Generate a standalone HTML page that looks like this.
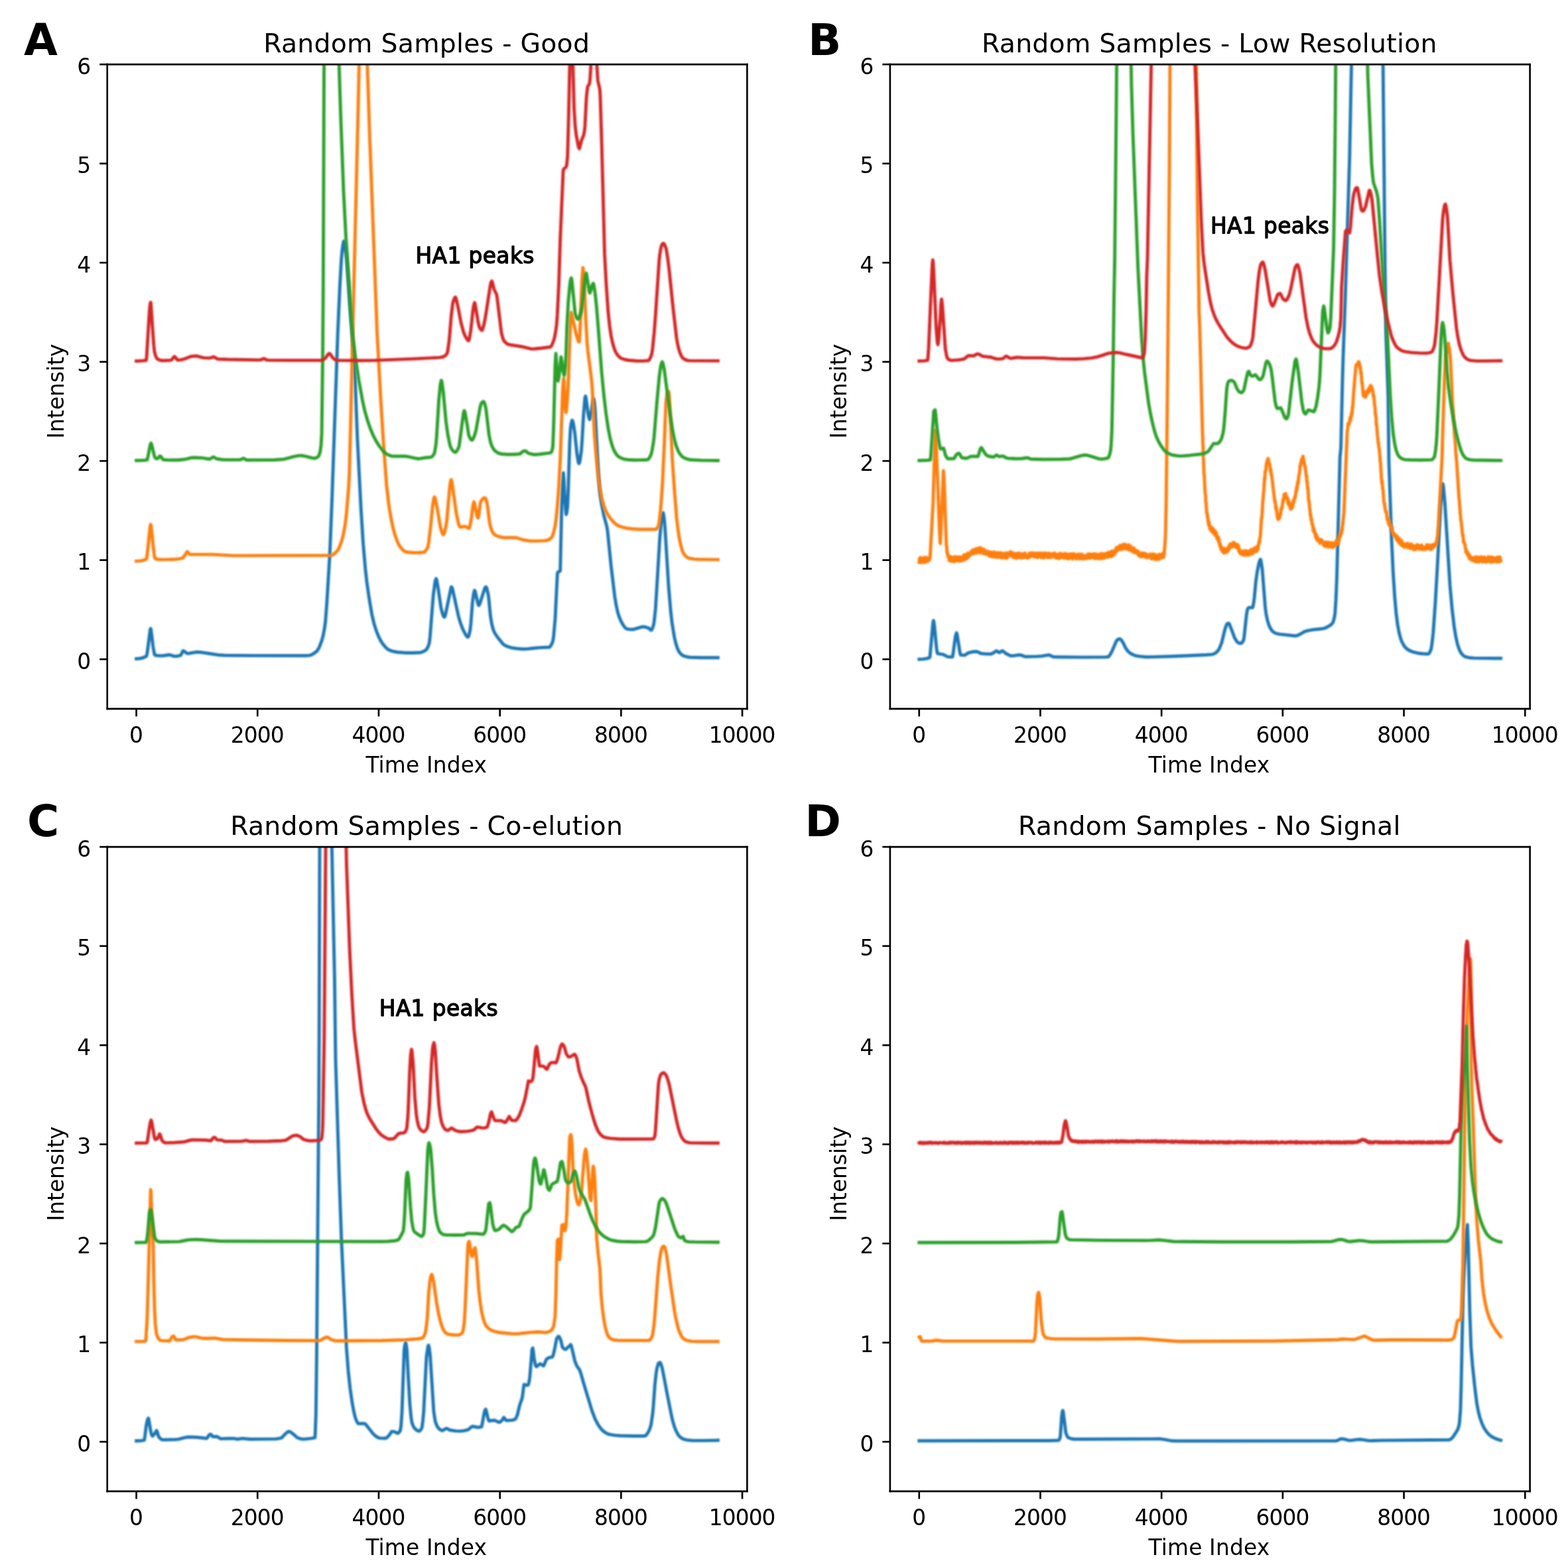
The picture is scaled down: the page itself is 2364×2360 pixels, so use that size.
<!DOCTYPE html>
<html lang="en"><head><meta charset="utf-8"><title>Random Samples</title>
<style>html,body{margin:0;padding:0;background:#fff}svg{display:block}text{font-family:"DejaVu Sans","Liberation Sans",sans-serif;fill:#000}text.ha1{stroke:#000;stroke-width:0.4px;stroke-linejoin:round}</style>
</head><body>
<svg width="2364" height="2360" viewBox="0 0 720 718.7817">
 <defs>
  <style type="text/css">*{stroke-linejoin: round; stroke-linecap: butt}</style>
 </defs>
 <defs><filter id="bl0" filterUnits="userSpaceOnUse" x="47.25" y="27.57" width="297.82" height="299.98"><feGaussianBlur stdDeviation="0.305"/></filter><filter id="bl1" filterUnits="userSpaceOnUse" x="406.70" y="27.57" width="297.82" height="299.98"><feGaussianBlur stdDeviation="0.305"/></filter><filter id="bl2" filterUnits="userSpaceOnUse" x="47.25" y="386.96" width="297.82" height="299.98"><feGaussianBlur stdDeviation="0.305"/></filter><filter id="bl3" filterUnits="userSpaceOnUse" x="406.70" y="386.96" width="297.82" height="299.98"><feGaussianBlur stdDeviation="0.305"/></filter></defs>
<g id="figure_1">
  <g id="patch_1">
   <path d="M 0 718.78 L 720 718.78 L 720 0 L 0 0 z" style="fill: #ffffff"/>
  </g>
  <g id="axes_1">
   <g id="patch_2">
    <path d="M 49.25 325.55 L 343.07 325.55 L 343.07 29.57 L 49.25 29.57 z" style="fill: #ffffff"/>
   </g>
   <g id="matplotlib.axis_1">
    <g id="xtick_1">
     <g id="line2d_1">
      <defs>
       <path id="m1504cfccaf" d="M 0 0 L 0 3.5" style="stroke: #000000; stroke-width: 0.8"/>
      </defs>
      <g>
       <use href="#m1504cfccaf" x="62.604061" y="325.553299" style="stroke: #000000; stroke-width: 0.8"/>
      </g>
     </g>
     <g id="text_1">
      <text class="xtick" x="62.604" y="341.157" font-size="10" text-anchor="middle">0</text>
     </g>
    </g>
    <g id="xtick_2">
     <g id="line2d_2">
      <g>
       <use href="#m1504cfccaf" x="118.251269" y="325.553299" style="stroke: #000000; stroke-width: 0.8"/>
      </g>
     </g>
     <g id="text_2">
      <text class="xtick" x="118.114" y="341.157" font-size="10" text-anchor="middle" letter-spacing="-0.274">2000</text>
     </g>
    </g>
    <g id="xtick_3">
     <g id="line2d_3">
      <g>
       <use href="#m1504cfccaf" x="173.898477" y="325.553299" style="stroke: #000000; stroke-width: 0.8"/>
      </g>
     </g>
     <g id="text_3">
      <text class="xtick" x="173.761" y="341.157" font-size="10" text-anchor="middle" letter-spacing="-0.274">4000</text>
     </g>
    </g>
    <g id="xtick_4">
     <g id="line2d_4">
      <g>
       <use href="#m1504cfccaf" x="229.545685" y="325.553299" style="stroke: #000000; stroke-width: 0.8"/>
      </g>
     </g>
     <g id="text_4">
      <text class="xtick" x="229.409" y="341.157" font-size="10" text-anchor="middle" letter-spacing="-0.274">6000</text>
     </g>
    </g>
    <g id="xtick_5">
     <g id="line2d_5">
      <g>
       <use href="#m1504cfccaf" x="285.192893" y="325.553299" style="stroke: #000000; stroke-width: 0.8"/>
      </g>
     </g>
     <g id="text_5">
      <text class="xtick" x="285.056" y="341.157" font-size="10" text-anchor="middle" letter-spacing="-0.274">8000</text>
     </g>
    </g>
    <g id="xtick_6">
     <g id="line2d_6">
      <g>
       <use href="#m1504cfccaf" x="340.840102" y="325.553299" style="stroke: #000000; stroke-width: 0.8"/>
      </g>
     </g>
     <g id="text_6">
      <text class="xtick" x="340.703" y="341.157" font-size="10" text-anchor="middle" letter-spacing="-0.274">10000</text>
     </g>
    </g>
    <g id="text_7">
     <text class="xlabel" x="195.754" y="354.926" font-size="10" text-anchor="middle" letter-spacing="0.046">Time Index</text>
    </g>
   </g>
   <g id="matplotlib.axis_2">
    <g id="ytick_1">
     <g id="line2d_7">
      <defs>
       <path id="m5d545ce8f8" d="M 0 0 L -3.5 0" style="stroke: #000000; stroke-width: 0.8"/>
      </defs>
      <g>
       <use href="#m5d545ce8f8" x="49.248731" y="302.785631" style="stroke: #000000; stroke-width: 0.8"/>
      </g>
     </g>
     <g id="text_8">
      <text class="ytick" x="41.792" y="307.194" font-size="10" text-anchor="end">0</text>
     </g>
    </g>
    <g id="ytick_2">
     <g id="line2d_8">
      <g>
       <use href="#m5d545ce8f8" x="49.248731" y="257.250293" style="stroke: #000000; stroke-width: 0.8"/>
      </g>
     </g>
     <g id="text_9">
      <text class="ytick" x="41.792" y="261.659" font-size="10" text-anchor="end">1</text>
     </g>
    </g>
    <g id="ytick_3">
     <g id="line2d_9">
      <g>
       <use href="#m5d545ce8f8" x="49.248731" y="211.714955" style="stroke: #000000; stroke-width: 0.8"/>
      </g>
     </g>
     <g id="text_10">
      <text class="ytick" x="41.792" y="216.123" font-size="10" text-anchor="end">2</text>
     </g>
    </g>
    <g id="ytick_4">
     <g id="line2d_10">
      <g>
       <use href="#m5d545ce8f8" x="49.248731" y="166.179617" style="stroke: #000000; stroke-width: 0.8"/>
      </g>
     </g>
     <g id="text_11">
      <text class="ytick" x="41.792" y="170.588" font-size="10" text-anchor="end">3</text>
     </g>
    </g>
    <g id="ytick_5">
     <g id="line2d_11">
      <g>
       <use href="#m5d545ce8f8" x="49.248731" y="120.64428" style="stroke: #000000; stroke-width: 0.8"/>
      </g>
     </g>
     <g id="text_12">
      <text class="ytick" x="41.792" y="125.053" font-size="10" text-anchor="end">4</text>
     </g>
    </g>
    <g id="ytick_6">
     <g id="line2d_12">
      <g>
       <use href="#m5d545ce8f8" x="49.248731" y="75.108942" style="stroke: #000000; stroke-width: 0.8"/>
      </g>
     </g>
     <g id="text_13">
      <text class="ytick" x="41.792" y="79.517" font-size="10" text-anchor="end">5</text>
     </g>
    </g>
    <g id="ytick_7">
     <g id="line2d_13">
      <g>
       <use href="#m5d545ce8f8" x="49.248731" y="29.573604" style="stroke: #000000; stroke-width: 0.8"/>
      </g>
     </g>
     <g id="text_14">
      <text class="ytick" x="41.792" y="33.982" font-size="10" text-anchor="end">6</text>
     </g>
    </g>
    <g id="text_15">
     <text class="ylabel" x="29.167" y="179.695" font-size="10" text-anchor="middle" transform="rotate(-90 29.167 179.695)">Intensity</text>
    </g>
   </g>
   <g id="line2d_14">
    <path d="M 62.6 302.56 L 64.27 302.44 L 65.61 302.14 L 66.94 301.56 L 67.28 301.31 L 67.61 299.84 L 68.61 292.05 L 68.95 289.35 L 69.17 288.67 L 69.28 288.88 L 69.62 291.34 L 70.28 296.98 L 70.95 300.59 L 71.29 300.98 L 73.29 301.17 L 74.96 301.14 L 77.63 300.75 L 78.63 300.98 L 79.97 301.38 L 80.97 301.4 L 82.3 301.16 L 82.97 300.93 L 83.3 300.39 L 83.97 298.99 L 84.11 298.92 L 84.31 298.95 L 84.97 299.38 L 85.64 299.94 L 86.17 300.14 L 86.98 300.06 L 90.32 299.47 L 92.65 299.64 L 95.99 300.15 L 100.67 300.86 L 103 300.98 L 116.03 301.11 L 140.06 301.15 L 142.07 301.03 L 143.07 300.7 L 144.07 300.14 L 145.41 299.14 L 146.07 298.26 L 146.74 296.95 L 147.8 294.13 L 148.41 291.84 L 149.08 288.14 L 149.41 285.71 L 150.08 277.02 L 151.42 254.9 L 152.42 230.05 L 155.09 153.16 L 156.09 130.65 L 156.76 118.86 L 157.09 115.48 L 157.43 112.74 L 157.76 111.01 L 157.93 110.76 L 158.09 111.02 L 158.43 112.7 L 159.1 118.14 L 159.76 127.12 L 160.77 141.74 L 162.44 162.38 L 163.1 175.09 L 164.1 201.29 L 165.77 233.99 L 166.78 249.88 L 167.78 261.48 L 168.45 267.37 L 169.45 274.42 L 170.78 282.31 L 171.78 286.53 L 172.79 289.75 L 173.79 292.22 L 174.79 294.24 L 175.79 295.76 L 177.13 297.35 L 178.13 298.24 L 179.13 298.74 L 180.8 299.25 L 182.55 299.55 L 186.47 299.85 L 189.81 299.85 L 193.15 299.67 L 194.15 299.36 L 195.16 298.82 L 195.82 298.29 L 196.49 297.16 L 197.08 295.5 L 197.16 295.13 L 197.49 292.29 L 198.49 279.26 L 198.97 273.32 L 199.83 266.89 L 200.25 265.77 L 200.5 266.27 L 201.19 270.18 L 201.83 274.54 L 202.5 279.15 L 203.17 281.74 L 203.5 282.72 L 203.84 283.33 L 204.03 283.43 L 204.17 283.34 L 204.5 282.5 L 205.17 279.29 L 207.18 269.64 L 207.31 269.54 L 207.51 269.73 L 207.84 270.77 L 210.51 282.97 L 211.52 286.37 L 212.52 289.02 L 213.85 291.59 L 214.52 292.44 L 214.88 292.59 L 215.19 292.18 L 215.52 291.02 L 215.91 289.13 L 216.19 286.58 L 216.97 276.47 L 217.53 272.39 L 217.92 271.14 L 218.19 271.65 L 219.53 277.55 L 219.86 278.05 L 220.2 277.63 L 220.86 275.63 L 222.53 270.34 L 222.87 269.69 L 223.2 269.6 L 223.54 270.29 L 224.23 273.32 L 224.54 275.91 L 225.21 282.98 L 225.87 286.89 L 226.54 289.34 L 227.21 290.78 L 228.21 292.31 L 230.88 295.69 L 231.83 296.41 L 233.22 297.02 L 234.89 297.51 L 237.22 297.86 L 239.9 298.08 L 241.9 298.05 L 244.9 297.72 L 247.91 297.45 L 252.25 297.26 L 252.58 297.01 L 253.25 295.98 L 253.75 294.82 L 253.92 294.18 L 254.25 291.88 L 254.92 284.29 L 255.92 263.99 L 256.06 262.94 L 256.26 262.73 L 256.92 262.46 L 257.23 262.12 L 257.26 261.85 L 257.93 232.42 L 258.26 223.38 L 258.68 217.18 L 258.93 220.21 L 259.34 229.29 L 259.93 236.21 L 259.98 236.3 L 260.26 235.44 L 260.62 232.48 L 260.93 224.9 L 261.6 203.46 L 261.93 197.21 L 262.27 194.54 L 262.71 193 L 262.93 193.29 L 263.27 194.61 L 263.94 198.79 L 264.94 208.54 L 265.61 212.46 L 265.86 212.9 L 265.94 212.85 L 266.27 211.81 L 266.94 207.16 L 267.27 202.48 L 267.94 190.7 L 268.61 182.76 L 268.83 181.93 L 268.94 182.11 L 269.28 184.21 L 269.95 189.25 L 270.28 191.28 L 270.72 192.68 L 270.95 192.26 L 271.67 188.26 L 272.28 184.27 L 272.62 183.21 L 272.95 184.98 L 273.28 188.59 L 273.95 202.08 L 274.62 214.49 L 275.29 224.47 L 275.62 227.53 L 276.29 231.88 L 277.29 236.74 L 278.63 241.78 L 278.96 243.68 L 279.63 250.27 L 280.63 260.28 L 282.3 274.13 L 282.97 278.11 L 283.63 281.1 L 284.3 283.23 L 285.3 285.64 L 286.31 287.32 L 286.97 288.25 L 287.64 288.78 L 288.64 288.99 L 290.31 289.12 L 291.31 288.95 L 294.99 287.87 L 295.99 287.91 L 297.32 288.29 L 297.99 288.59 L 298.66 289.3 L 298.99 289.44 L 299.33 289.13 L 299.66 288.4 L 300.05 287.21 L 300.33 285.8 L 301 279.65 L 301.66 268.83 L 303 246.69 L 303.67 239.12 L 304 236.98 L 304.45 235.44 L 304.67 236.07 L 305.09 239.22 L 305.34 242.23 L 307.01 269.33 L 308.01 281.07 L 308.68 286.74 L 309.68 292.77 L 310.35 295.53 L 311.01 297.67 L 311.74 299.23 L 312.68 300.42 L 313.35 300.96 L 314.35 301.38 L 315.69 301.74 L 317.02 301.89 L 322.03 302.05 L 329.68 302.06 L 329.68 302.06" clip-path="url(#pe89d451f33)" filter="url(#bl0)" style="fill: none; stroke: #1f77b4; stroke-width: 1.5; stroke-linecap: square"/>
   </g>
   <g id="line2d_15">
    <path d="M 62.6 257.71 L 64.27 257.62 L 65.61 257.38 L 66.94 256.91 L 67.28 256.65 L 67.61 254.51 L 68.95 241.58 L 69.17 240.86 L 69.28 241.08 L 69.62 243.73 L 70.28 250.48 L 70.95 255.95 L 71.29 256.6 L 72.62 256.91 L 74.29 257.02 L 79.97 256.93 L 82.3 256.64 L 83.75 256.34 L 83.97 256.21 L 84.86 254.97 L 85.98 253.38 L 86.31 253.65 L 86.98 254.57 L 87.31 254.61 L 97.66 254.66 L 107.34 255.2 L 152.08 255.1 L 152.75 254.83 L 153.75 254.11 L 154.76 253.15 L 155.42 252.18 L 156.09 250.7 L 157.09 247.78 L 157.76 245.01 L 158.54 240.49 L 159.1 235.72 L 160.1 223.65 L 160.43 216.81 L 161.1 190.08 L 162.1 146.97 L 164.24 58.99 L 165.44 5.22 L 165.7 -1 M 167.91 -1 L 168.11 3.79 L 168.78 33.59 L 169.78 63.55 L 172.45 133.91 L 173.12 152.42 L 174.79 182.97 L 176.12 204.19 L 177.49 222.78 L 178.46 231.36 L 179.46 237.65 L 180.46 242.51 L 181.47 246.05 L 182.47 248.76 L 183.47 250.77 L 184.47 252.04 L 185.47 253.01 L 186.14 253.37 L 187.48 253.62 L 189.81 253.86 L 192.15 253.85 L 194.54 253.61 L 194.82 253.52 L 195.49 252.92 L 196.16 251.83 L 196.49 251.09 L 196.83 249.43 L 197.83 240.74 L 198.66 232.3 L 199.16 229.04 L 199.5 228.2 L 199.83 228.89 L 200.83 233.79 L 202.17 241.87 L 202.84 244.23 L 203.17 245.1 L 203.59 245.55 L 203.84 245.32 L 204.17 244.42 L 204.84 241.26 L 205.17 238.97 L 206.51 223.7 L 206.84 221.31 L 207.18 220.28 L 207.51 221.42 L 209.51 235.72 L 210.51 240.35 L 210.85 241.46 L 211.29 242.09 L 212.18 241.97 L 213.52 241.77 L 214.19 242.05 L 215.19 242.65 L 215.38 242.68 L 215.52 242.53 L 215.86 241.23 L 216.52 237.37 L 217.19 232.07 L 217.61 230.52 L 217.86 231.08 L 218.86 236.11 L 219.2 237.43 L 219.53 237.93 L 219.86 236.54 L 220.53 231.27 L 220.86 230.2 L 221.53 229.27 L 222.2 228.72 L 222.65 228.61 L 222.87 228.79 L 223.2 229.57 L 223.62 231.02 L 223.87 232.43 L 224.87 240.49 L 225.54 242.94 L 226.21 244.56 L 226.87 245.32 L 227.88 246.01 L 228.88 246.39 L 230.88 246.85 L 232.22 246.91 L 236.89 246.89 L 238.23 247.31 L 240.04 247.92 L 243.57 248.47 L 245.57 248.5 L 249.58 248.33 L 251.25 248.15 L 251.92 247.88 L 252.92 247.17 L 253.28 246.82 L 253.59 246.36 L 254.25 244.41 L 254.92 241.49 L 255.25 239.22 L 255.92 232.54 L 256.59 223.82 L 257.26 210.82 L 258.4 178.79 L 258.59 175.79 L 258.84 173.74 L 258.93 174.3 L 259.37 184.39 L 259.6 187.45 L 259.87 189.49 L 259.93 189.41 L 260.43 184.39 L 260.6 182.03 L 260.93 175.61 L 261.93 147.4 L 262.24 143.41 L 262.27 143.42 L 262.93 146.17 L 264.6 153.64 L 265.27 155.89 L 265.61 156.69 L 265.99 157.07 L 266.27 153.13 L 267.27 127.93 L 267.69 122.92 L 267.94 124.72 L 268.28 129.86 L 268.94 146.27 L 269.61 157.79 L 269.95 161.44 L 271.61 174.44 L 271.98 178.79 L 272.95 199.74 L 273.95 211.53 L 274.84 219.91 L 275.62 225.3 L 276.4 229.29 L 277.29 232.38 L 278.32 234.94 L 279.29 236.71 L 280.3 238.14 L 281.63 239.64 L 282.97 240.86 L 283.97 241.46 L 285.97 242.19 L 287.64 242.57 L 290.31 242.89 L 293.65 243.12 L 298.66 243.13 L 301 243.13 L 301.33 243.02 L 301.66 242.71 L 302.33 241.55 L 302.67 239.82 L 303.33 234.08 L 304 225.03 L 304.34 219.26 L 305 204.42 L 305.78 185.08 L 306 183.01 L 306.42 180.75 L 306.67 180.22 L 307.06 179.84 L 307.34 182.32 L 308.01 195.29 L 308.68 210.42 L 309.68 225.1 L 310.68 237.8 L 311.35 243.37 L 312.01 247.69 L 312.68 250.73 L 313.35 253.1 L 314.02 254.5 L 315.02 255.6 L 315.69 256.07 L 316.69 256.4 L 318.69 256.79 L 320.7 256.91 L 329.04 257.02 L 329.68 257.02 L 329.68 257.02" clip-path="url(#pe89d451f33)" filter="url(#bl0)" style="fill: none; stroke: #ff7f0e; stroke-width: 1.5; stroke-linecap: square"/>
   </g>
   <g id="line2d_16">
    <path d="M 62.6 211.49 L 66.28 211.37 L 67.47 211.26 L 67.61 211.08 L 67.95 209.69 L 68.95 204.47 L 69.31 203.52 L 69.62 204.1 L 70.95 209.71 L 71.29 210.37 L 71.95 210.64 L 72.29 210.65 L 72.62 210.35 L 73.29 209.5 L 73.62 209.49 L 73.96 209.83 L 74.62 210.81 L 75.04 211.12 L 78.3 211.32 L 81.64 211.31 L 84.64 211.01 L 85.98 210.74 L 87.98 210.22 L 89.31 210.17 L 93.04 210.35 L 94.32 210.56 L 95.99 210.84 L 96.33 210.84 L 96.99 210.45 L 97.66 209.97 L 98 209.89 L 98.33 210.01 L 99.36 210.67 L 101.67 211.05 L 103.78 211.17 L 110.35 211.12 L 111.68 210.49 L 112.02 210.58 L 113.27 211.31 L 126.04 211.2 L 130.38 210.9 L 132.05 210.47 L 134.72 209.76 L 137.06 209.27 L 138.4 209.23 L 140.06 209.5 L 142.4 210.1 L 143.74 210.45 L 144.41 210.48 L 145.07 210.32 L 145.74 209.97 L 146.1 209.71 L 146.41 209.27 L 146.74 208.35 L 147.08 207.04 L 147.41 204.72 L 147.74 199.1 L 148.19 162.99 L 148.41 132.8 L 148.91 -1 M 155.19 -1 L 155.42 12.37 L 155.76 31.9 L 156.43 52.85 L 157.76 87.96 L 158.87 109.53 L 160.13 128.39 L 161.43 148.32 L 162.1 155.57 L 163.1 163.58 L 164.77 174.62 L 166.44 183.9 L 167.44 188.48 L 168.78 193.18 L 170.11 196.97 L 171.45 200.16 L 172.79 202.74 L 174.12 204.8 L 175.79 206.93 L 176.79 208.02 L 177.49 208.53 L 179.13 209.27 L 180.13 209.53 L 181.47 209.56 L 186.14 209.51 L 188.48 209.96 L 190.82 210.51 L 192.04 210.67 L 193.15 210.56 L 195.82 210.17 L 197.83 210.01 L 198.49 209.6 L 199.16 208.76 L 199.5 208.02 L 199.83 206.45 L 200.25 203.52 L 200.5 200.47 L 201.5 183.94 L 202.17 176.71 L 202.64 174.69 L 202.84 175.11 L 203.5 179.72 L 204.84 194.02 L 205.62 199.6 L 206.51 203.99 L 206.84 205.17 L 207.51 206.43 L 208.18 207.24 L 208.84 207.68 L 209.18 207.69 L 209.51 207.48 L 210.18 206.43 L 210.65 205.34 L 210.85 204.6 L 211.52 199.7 L 212.85 189.53 L 213.19 188.58 L 213.52 189.37 L 214.52 195.15 L 215.19 199.54 L 215.52 200.57 L 216.19 201.83 L 216.66 202.15 L 216.86 202.08 L 217.19 201.68 L 217.86 200.11 L 218.53 197.85 L 220.53 186.68 L 221.09 185.08 L 221.53 184.65 L 222.03 184.44 L 222.2 184.55 L 222.53 185.33 L 222.98 186.99 L 223.2 188.29 L 224.54 199.61 L 225.21 203.01 L 225.87 204.88 L 226.54 206.14 L 227.21 206.99 L 228.21 207.74 L 229.21 208.25 L 230.21 208.47 L 232.88 208.72 L 235.56 208.73 L 237.89 208.56 L 238.89 208.39 L 240.23 207.24 L 241.23 207.07 L 241.57 207.25 L 242.57 208.16 L 244.24 208.61 L 245.71 208.76 L 247.58 208.65 L 252.25 208.07 L 252.97 207.84 L 253.25 207.54 L 253.75 205.93 L 253.92 203.77 L 254.25 194.55 L 254.92 167.87 L 255.25 162.35 L 255.92 172.86 L 256.2 174.97 L 256.26 174.93 L 256.59 173.46 L 256.95 170.73 L 257.59 163.9 L 257.93 165.48 L 258.59 170.58 L 259.04 172.46 L 259.26 171.78 L 259.68 168 L 259.93 162.23 L 260.32 150.33 L 260.93 138.8 L 261.6 131.44 L 261.93 128.89 L 262.32 127.61 L 262.6 128.86 L 264.1 144.05 L 264.6 145.58 L 264.94 146.26 L 265.35 146.6 L 265.61 146.47 L 265.94 145.95 L 266.61 144.02 L 266.94 142.77 L 267.27 140.57 L 268.61 127.99 L 268.94 125.85 L 269.14 125.43 L 269.28 125.69 L 270.61 134.08 L 270.86 134.58 L 270.95 134.5 L 271.95 130.78 L 272.42 130.16 L 272.62 130.53 L 273.28 134.77 L 273.95 141.2 L 274.62 149.4 L 276.29 171.21 L 277.29 181.58 L 278.29 190.05 L 279.29 196.79 L 280.21 201.52 L 280.96 204.22 L 281.63 206.13 L 282.3 207.52 L 283.3 209.05 L 284 209.71 L 285.3 210.44 L 286.64 210.9 L 288.31 211.12 L 290.98 211.3 L 294.65 211.26 L 297.32 211.12 L 297.66 210.94 L 298.33 210.05 L 298.99 208.64 L 299.33 207.37 L 300.11 202.79 L 300.33 200.91 L 301.66 184.6 L 302.67 173.51 L 303.33 168.56 L 303.67 167.12 L 304.09 166.18 L 304.34 166.58 L 305 169.59 L 307.67 189.9 L 308.68 196.75 L 309.68 201.93 L 310.35 204.3 L 311.35 207 L 312.01 208.19 L 313.02 209.5 L 313.68 210.03 L 315.02 210.67 L 316.36 211.05 L 318.02 211.22 L 322.03 211.42 L 329.68 211.49 L 329.68 211.49" clip-path="url(#pe89d451f33)" filter="url(#bl0)" style="fill: none; stroke: #2ca02c; stroke-width: 1.5; stroke-linecap: square"/>
   </g>
   <g id="line2d_17">
    <path d="M 62.6 165.82 L 65.61 165.7 L 67.14 165.5 L 67.28 164.81 L 68.61 142.99 L 68.95 139.64 L 69.17 138.86 L 69.28 139.25 L 70.01 150.24 L 70.62 158.74 L 70.95 161.63 L 71.62 163.9 L 72.2 164.81 L 73.29 165.36 L 74.29 165.61 L 75.63 165.62 L 78.3 165.43 L 78.63 165.37 L 78.96 165.06 L 79.97 163.8 L 80.11 163.77 L 80.3 163.83 L 80.97 164.69 L 81.3 165.16 L 81.69 165.41 L 82.97 165.28 L 84.31 164.98 L 87.65 163.72 L 89.65 163.5 L 90.65 163.57 L 92.32 164.07 L 93.66 164.36 L 96.33 164.44 L 96.99 164.25 L 98 163.91 L 98.33 163.94 L 99 164.34 L 99.67 164.81 L 100.33 164.93 L 104.67 165.1 L 119.36 165.34 L 121.14 164.72 L 121.7 164.91 L 122.37 165.31 L 123.04 165.41 L 133.05 165.5 L 147.74 165.45 L 148.41 165.16 L 149.41 164.47 L 150.08 163.53 L 150.75 162.58 L 151.17 162.35 L 151.42 162.44 L 152.08 163.25 L 152.75 164.27 L 153.42 164.87 L 154.09 165.33 L 154.76 165.5 L 165.77 165.59 L 172.45 165.49 L 189.81 164.81 L 201.83 164.2 L 203.5 163.87 L 204.17 163.56 L 204.84 162.96 L 205.28 162.35 L 205.51 161.67 L 206.17 157.07 L 206.51 153.67 L 207.18 145.32 L 207.84 139.76 L 208.18 138.23 L 208.84 136.63 L 209.07 136.49 L 209.18 136.56 L 209.51 137.43 L 210.51 141.93 L 211.6 147.83 L 212.85 152.53 L 213.52 154.21 L 214.52 155.97 L 214.85 156.33 L 215.22 156.48 L 215.52 155.75 L 216.19 151.64 L 217.19 142.46 L 217.53 140.22 L 217.92 139 L 218.19 139.75 L 219.53 147.85 L 220.14 150.33 L 220.86 151.51 L 221.28 151.74 L 221.53 151.46 L 222.2 149.04 L 222.53 147.61 L 223.2 143.73 L 225.21 130.7 L 225.54 129.51 L 225.87 129.1 L 226.21 130.14 L 226.87 132.94 L 228.02 135.22 L 228.21 136.2 L 230.24 152.88 L 230.88 155.31 L 231.49 156.66 L 232.22 157.42 L 232.88 157.91 L 233.72 158.26 L 235.22 158.54 L 239.23 159.13 L 243.9 160.24 L 245.57 160.22 L 248.58 159.91 L 252.67 159.35 L 252.92 159.19 L 253.25 158.75 L 253.92 157.3 L 254.59 155.26 L 255.25 151.67 L 255.59 149.03 L 255.92 144.58 L 256.59 130.73 L 257.26 109.76 L 258.59 78.69 L 258.73 77.84 L 258.93 77.54 L 259.98 76.7 L 260.26 75.43 L 260.62 71.65 L 261.13 52.8 L 261.93 14.57 L 262.29 6.81 L 262.6 13 L 263.6 49.66 L 264.1 57.81 L 264.6 62.07 L 265.61 67.41 L 265.99 68.28 L 266.27 67.68 L 266.94 64.64 L 267.94 62.31 L 268.28 60.79 L 268.61 57.94 L 269.28 44.58 L 269.78 40.05 L 269.95 39.6 L 270.61 38.56 L 270.72 38.23 L 270.95 36.17 L 272.28 14.13 L 272.67 11.36 L 272.95 12.75 L 273.62 23.06 L 274.51 36.86 L 274.62 37.6 L 275.29 40.25 L 275.45 41.41 L 275.62 44.12 L 276.29 65.96 L 277.62 116.63 L 278.32 129.75 L 279.29 143.71 L 279.96 149.94 L 280.63 154.41 L 281.3 157.46 L 281.97 159.88 L 282.72 161.72 L 283.63 163.13 L 284.64 164.21 L 285.3 164.61 L 286.97 165.15 L 288.64 165.45 L 292.32 165.75 L 295.32 165.81 L 297.57 165.63 L 297.66 165.61 L 297.99 165.38 L 298.33 164.92 L 298.99 163.45 L 299.33 162.33 L 299.66 160.06 L 300.41 152.52 L 301 144.81 L 302.67 119.69 L 303 116.62 L 303.67 113 L 304 112.29 L 304.34 111.9 L 304.67 111.77 L 305 112.06 L 305.67 113.63 L 306 114.8 L 306.67 119.09 L 307.34 124.61 L 309.01 140.93 L 310.68 155.36 L 311.35 158.95 L 312.1 161.72 L 313.02 163.75 L 313.68 164.59 L 314.69 165.2 L 315.69 165.57 L 316.69 165.64 L 328.71 165.72 L 329.68 165.72 L 329.68 165.72" clip-path="url(#pe89d451f33)" filter="url(#bl0)" style="fill: none; stroke: #d62728; stroke-width: 1.5; stroke-linecap: square"/>
   </g>
   <g id="patch_3">
    <path d="M 49.25 325.55 L 49.25 29.57" style="fill: none; stroke: #000000; stroke-width: 0.8; stroke-linejoin: miter; stroke-linecap: square"/>
   </g>
   <g id="patch_4">
    <path d="M 343.07 325.55 L 343.07 29.57" style="fill: none; stroke: #000000; stroke-width: 0.8; stroke-linejoin: miter; stroke-linecap: square"/>
   </g>
   <g id="patch_5">
    <path d="M 49.25 325.55 L 343.07 325.55" style="fill: none; stroke: #000000; stroke-width: 0.8; stroke-linejoin: miter; stroke-linecap: square"/>
   </g>
   <g id="patch_6">
    <path d="M 49.25 29.57 L 343.07 29.57" style="fill: none; stroke: #000000; stroke-width: 0.8; stroke-linejoin: miter; stroke-linecap: square"/>
   </g>
   <g id="ha1A">
    <text class="ha1" x="190.806" y="120.857" font-size="10" text-anchor="start" letter-spacing="0.122">HA1 peaks</text>
   </g>
   <g id="text_16">
    <text class="letter" x="10.980" y="25.431" font-size="20" text-anchor="start" font-weight="700">A</text>
   </g>
   <g id="text_17">
    <text class="title" x="195.891" y="24.183" font-size="12" text-anchor="middle" letter-spacing="0.076">Random Samples - Good</text>
   </g>
  </g>
  <g id="axes_2">
   <g id="patch_7">
    <path d="M 408.7 325.55 L 702.52 325.55 L 702.52 29.57 L 408.7 29.57 z" style="fill: #ffffff"/>
   </g>
   <g id="matplotlib.axis_3">
    <g id="xtick_7">
     <g id="line2d_18">
      <g>
       <use href="#m1504cfccaf" x="422.055838" y="325.553299" style="stroke: #000000; stroke-width: 0.8"/>
      </g>
     </g>
     <g id="text_18">
      <text class="xtick" x="422.056" y="341.157" font-size="10" text-anchor="middle">0</text>
     </g>
    </g>
    <g id="xtick_8">
     <g id="line2d_19">
      <g>
       <use href="#m1504cfccaf" x="477.703046" y="325.553299" style="stroke: #000000; stroke-width: 0.8"/>
      </g>
     </g>
     <g id="text_19">
      <text class="xtick" x="477.566" y="341.157" font-size="10" text-anchor="middle" letter-spacing="-0.274">2000</text>
     </g>
    </g>
    <g id="xtick_9">
     <g id="line2d_20">
      <g>
       <use href="#m1504cfccaf" x="533.350254" y="325.553299" style="stroke: #000000; stroke-width: 0.8"/>
      </g>
     </g>
     <g id="text_20">
      <text class="xtick" x="533.213" y="341.157" font-size="10" text-anchor="middle" letter-spacing="-0.274">4000</text>
     </g>
    </g>
    <g id="xtick_10">
     <g id="line2d_21">
      <g>
       <use href="#m1504cfccaf" x="588.997462" y="325.553299" style="stroke: #000000; stroke-width: 0.8"/>
      </g>
     </g>
     <g id="text_21">
      <text class="xtick" x="588.860" y="341.157" font-size="10" text-anchor="middle" letter-spacing="-0.274">6000</text>
     </g>
    </g>
    <g id="xtick_11">
     <g id="line2d_22">
      <g>
       <use href="#m1504cfccaf" x="644.64467" y="325.553299" style="stroke: #000000; stroke-width: 0.8"/>
      </g>
     </g>
     <g id="text_22">
      <text class="xtick" x="644.508" y="341.157" font-size="10" text-anchor="middle" letter-spacing="-0.274">8000</text>
     </g>
    </g>
    <g id="xtick_12">
     <g id="line2d_23">
      <g>
       <use href="#m1504cfccaf" x="700.291878" y="325.553299" style="stroke: #000000; stroke-width: 0.8"/>
      </g>
     </g>
     <g id="text_23">
      <text class="xtick" x="700.155" y="341.157" font-size="10" text-anchor="middle" letter-spacing="-0.274">10000</text>
     </g>
    </g>
    <g id="text_24">
     <text class="xlabel" x="555.206" y="354.926" font-size="10" text-anchor="middle" letter-spacing="0.046">Time Index</text>
    </g>
   </g>
   <g id="matplotlib.axis_4">
    <g id="ytick_8">
     <g id="line2d_24">
      <g>
       <use href="#m5d545ce8f8" x="408.700508" y="302.785631" style="stroke: #000000; stroke-width: 0.8"/>
      </g>
     </g>
     <g id="text_25">
      <text class="ytick" x="401.244" y="307.194" font-size="10" text-anchor="end">0</text>
     </g>
    </g>
    <g id="ytick_9">
     <g id="line2d_25">
      <g>
       <use href="#m5d545ce8f8" x="408.700508" y="257.250293" style="stroke: #000000; stroke-width: 0.8"/>
      </g>
     </g>
     <g id="text_26">
      <text class="ytick" x="401.244" y="261.659" font-size="10" text-anchor="end">1</text>
     </g>
    </g>
    <g id="ytick_10">
     <g id="line2d_26">
      <g>
       <use href="#m5d545ce8f8" x="408.700508" y="211.714955" style="stroke: #000000; stroke-width: 0.8"/>
      </g>
     </g>
     <g id="text_27">
      <text class="ytick" x="401.244" y="216.123" font-size="10" text-anchor="end">2</text>
     </g>
    </g>
    <g id="ytick_11">
     <g id="line2d_27">
      <g>
       <use href="#m5d545ce8f8" x="408.700508" y="166.179617" style="stroke: #000000; stroke-width: 0.8"/>
      </g>
     </g>
     <g id="text_28">
      <text class="ytick" x="401.244" y="170.588" font-size="10" text-anchor="end">3</text>
     </g>
    </g>
    <g id="ytick_12">
     <g id="line2d_28">
      <g>
       <use href="#m5d545ce8f8" x="408.700508" y="120.64428" style="stroke: #000000; stroke-width: 0.8"/>
      </g>
     </g>
     <g id="text_29">
      <text class="ytick" x="401.244" y="125.053" font-size="10" text-anchor="end">4</text>
     </g>
    </g>
    <g id="ytick_13">
     <g id="line2d_29">
      <g>
       <use href="#m5d545ce8f8" x="408.700508" y="75.108942" style="stroke: #000000; stroke-width: 0.8"/>
      </g>
     </g>
     <g id="text_30">
      <text class="ytick" x="401.244" y="79.517" font-size="10" text-anchor="end">5</text>
     </g>
    </g>
    <g id="ytick_14">
     <g id="line2d_30">
      <g>
       <use href="#m5d545ce8f8" x="408.700508" y="29.573604" style="stroke: #000000; stroke-width: 0.8"/>
      </g>
     </g>
     <g id="text_31">
      <text class="ytick" x="401.244" y="33.982" font-size="10" text-anchor="end">6</text>
     </g>
    </g>
    <g id="text_32">
     <text class="ylabel" x="388.619" y="179.695" font-size="10" text-anchor="middle" transform="rotate(-90 388.619 179.695)">Intensity</text>
    </g>
   </g>
   <g id="line2d_31">
    <path d="M 422.06 302.79 L 424.06 302.7 L 425.73 302.41 L 426.87 302.06 L 427.06 301.24 L 428.4 286.1 L 428.65 285.03 L 428.73 285.16 L 429.07 287.62 L 430.07 298 L 430.46 300.14 L 431.4 300.33 L 433.07 300.58 L 435.08 301.63 L 437.3 301.74 L 437.41 301.57 L 437.75 299.53 L 438.42 294.45 L 438.75 292.24 L 439.2 290.67 L 439.42 291.14 L 440.42 297.33 L 440.75 299.64 L 441.09 300.78 L 442.42 300.96 L 442.76 300.96 L 443.42 300.66 L 444.87 299.73 L 447.1 299.31 L 448.43 299.24 L 449.1 299.46 L 450.44 300.13 L 452.11 300.28 L 455.11 300.36 L 455.78 300.07 L 457.5 298.92 L 457.78 299.02 L 458.76 299.73 L 458.78 299.73 L 459.12 299.6 L 460.12 298.92 L 460.45 298.99 L 461.12 299.49 L 461.93 300.14 L 463.79 301.12 L 464.46 301.24 L 465.79 301.11 L 468.24 300.78 L 468.8 300.88 L 470.8 301.6 L 476.14 301.49 L 478.48 301.32 L 481.49 300.79 L 482.15 301 L 483.82 301.72 L 485.49 301.77 L 497.18 301.87 L 507.53 301.78 L 508.87 301.69 L 509.2 301.42 L 509.87 300.47 L 510.53 299.27 L 512.54 294.6 L 513.09 293.86 L 513.87 293.43 L 514.21 293.44 L 514.54 293.65 L 515.29 294.5 L 515.88 295.54 L 516.88 297.64 L 517.88 299.02 L 518.77 299.87 L 520.22 300.68 L 521.55 301.16 L 523.56 301.49 L 526.23 301.73 L 529.57 301.71 L 537.91 301.46 L 553.94 300.76 L 556.61 300.58 L 557.28 300.38 L 558.28 299.79 L 559.28 298.9 L 559.95 297.74 L 560.95 295.26 L 561.62 292.6 L 562.45 289.13 L 563.29 286.7 L 563.62 286.43 L 564.15 286.26 L 564.29 286.31 L 564.62 286.83 L 565.96 290.38 L 566.88 292.9 L 567.96 294.7 L 568.63 295.21 L 569.3 295.45 L 569.97 295.44 L 570.3 295.19 L 571 294.13 L 571.3 292.34 L 572.3 282.99 L 572.64 280.61 L 572.97 279.51 L 573.5 279.02 L 575.09 279.11 L 575.31 278.66 L 575.73 276.47 L 575.98 274.43 L 576.67 266.99 L 577.31 262.56 L 577.98 259.21 L 578.31 257.85 L 578.76 256.89 L 578.98 257.36 L 579.51 260.71 L 579.65 261.99 L 580.98 278.95 L 581.4 282.16 L 581.99 284.89 L 582.65 287.09 L 583.32 288.48 L 583.99 289.53 L 584.66 290.24 L 585.32 290.64 L 586.33 291.03 L 587.66 291.27 L 595.01 292.08 L 596.01 291.74 L 597.34 291.09 L 599.01 290.05 L 600.35 289.66 L 602.69 289.23 L 605.36 288.95 L 607.69 288.68 L 608.7 288.35 L 610.37 287.48 L 611.37 286.74 L 612.04 285.89 L 612.37 285.04 L 612.87 282.8 L 613.04 281.34 L 613.43 275.46 L 613.84 265.45 L 615.29 210.17 L 615.71 205.62 L 616.38 177.08 L 616.71 165.1 L 617.71 136.88 L 618.71 104.84 L 619.71 72.6 L 620.38 38.36 L 621.05 6.97 L 621.38 1.52 L 621.8 -1 M 634.14 -1 L 634.63 2.25 L 634.74 5.23 L 635.07 29.57 L 635.96 122.15 L 636.41 152.87 L 637.41 181.93 L 637.74 211.45 L 639 248.14 L 639.75 263.73 L 640.42 274.06 L 641.08 281.5 L 641.75 286.85 L 642.42 290.44 L 643.09 293.07 L 643.75 294.87 L 644.76 296.65 L 645.42 297.49 L 646.43 298.33 L 647.76 299.07 L 649.1 299.52 L 651.1 299.99 L 653.1 300.23 L 655.77 300.37 L 656.11 300.17 L 656.44 299.73 L 657.11 298.25 L 657.44 296.42 L 658.11 290.62 L 659.11 276.24 L 660.11 258.44 L 661.45 232.99 L 662.12 224.39 L 662.48 222.19 L 662.79 223.51 L 663.45 230.86 L 665.79 268.68 L 666.79 279.86 L 667.74 287.85 L 668.46 292.3 L 669.3 296.05 L 670.13 298.45 L 670.88 299.87 L 671.8 300.95 L 672.47 301.47 L 673.47 301.81 L 675.14 302.15 L 676.81 302.25 L 687.16 302.37 L 689.13 302.38 L 689.13 302.38" clip-path="url(#p00116fa853)" filter="url(#bl1)" style="fill: none; stroke: #1f77b4; stroke-width: 1.5; stroke-linecap: square"/>
   </g>
   <g id="line2d_32">
    <path d="M 422.06 258.29 L 422.19 256.56 L 422.33 257.4 L 422.61 256.07 L 422.75 257.15 L 422.89 257.24 L 423.03 258.29 L 423.59 256.47 L 423.86 258.28 L 424 257.72 L 424.14 256.18 L 424.28 257.89 L 424.42 257.29 L 424.56 256.1 L 424.7 258.32 L 424.98 256.01 L 425.12 257.77 L 425.39 256.06 L 425.53 257.95 L 425.81 256.39 L 425.95 256.57 L 426.23 257.66 L 426.37 256.93 L 426.51 257.19 L 426.65 256.9 L 426.79 257.14 L 426.87 255.96 L 426.92 256.03 L 427.06 256.14 L 428.46 230.83 L 429.43 197.58 L 429.85 203.23 L 431.1 235.91 L 431.38 243.6 L 431.74 249.58 L 431.79 248.87 L 432.07 243.47 L 433.19 216.13 L 433.32 216.79 L 433.74 225.96 L 434.02 235.81 L 434.44 247.61 L 434.58 250.76 L 434.72 251.08 L 434.85 253.89 L 434.99 254.31 L 435.13 254.05 L 435.27 255.59 L 435.38 255.41 L 435.41 255.13 L 435.55 255.08 L 435.69 255.38 L 435.83 257.38 L 435.97 256.5 L 436.11 256.51 L 436.25 257.61 L 436.38 256.51 L 436.52 256.42 L 436.8 255.72 L 436.94 257.76 L 437.08 257.53 L 437.22 256.49 L 437.3 257.79 L 437.36 257.56 L 437.5 256.7 L 437.64 257.69 L 437.78 256.18 L 437.92 256 L 438.05 258.01 L 438.33 256.12 L 438.47 255.67 L 438.61 257.38 L 438.75 257.63 L 438.89 255.88 L 439.03 255.78 L 439.17 257.51 L 439.58 255.87 L 439.72 257.51 L 440 255.89 L 440.42 257.72 L 440.56 257.09 L 440.7 255.77 L 440.84 257.62 L 440.98 257.68 L 441.12 256.78 L 441.25 257.48 L 441.39 257.24 L 441.53 257.52 L 441.81 255.8 L 442.09 257.11 L 442.37 255.92 L 442.51 255.02 L 442.65 254.86 L 442.92 257.19 L 443.06 254.9 L 443.2 256 L 443.48 254.85 L 443.62 255.39 L 443.76 254.65 L 443.9 256.63 L 444.04 255.9 L 444.18 255.77 L 444.31 256.04 L 444.45 253.97 L 444.59 256.01 L 444.73 254.3 L 444.87 255.66 L 445.15 254.56 L 445.29 255.03 L 445.43 254.09 L 445.57 253.96 L 445.71 254.4 L 445.85 253.29 L 445.98 254.64 L 446.12 254.5 L 446.4 253.94 L 446.54 254.32 L 446.68 252.52 L 446.82 252.69 L 446.96 254.42 L 447.1 253.73 L 447.24 254.02 L 447.38 253.44 L 447.51 253.82 L 447.79 252.15 L 447.93 253.44 L 448.07 252.74 L 448.21 252.84 L 448.35 252.42 L 448.49 254.08 L 448.77 251.85 L 449.04 253.42 L 449.18 252.45 L 449.32 252.33 L 449.46 252.45 L 449.6 253.69 L 449.74 251.64 L 449.88 251.68 L 450.02 252.98 L 450.16 252.56 L 450.24 253.92 L 450.3 251.59 L 450.58 252.48 L 450.71 252.2 L 450.85 253.64 L 450.99 253.38 L 451.13 253.58 L 451.27 252.77 L 451.41 254.07 L 451.55 252.15 L 451.69 253.28 L 451.83 253.39 L 451.97 254.3 L 452.11 252.95 L 452.24 252.7 L 452.38 253.23 L 452.52 254.26 L 452.66 253 L 452.8 254.65 L 452.94 253.05 L 453.22 254.51 L 453.5 253.8 L 453.64 254.77 L 453.77 253.38 L 453.91 254.47 L 454.05 253.35 L 454.19 253.53 L 454.33 255.37 L 454.47 254.05 L 454.61 254.89 L 454.75 253.83 L 455.03 254.6 L 455.17 253.55 L 455.31 255.63 L 455.44 254.42 L 455.72 255.75 L 455.86 254.01 L 456 254.5 L 456.14 253.7 L 456.42 255.11 L 456.56 253.54 L 456.7 255.7 L 456.84 255.87 L 456.97 254.22 L 457.11 255.13 L 457.25 255.17 L 457.39 253.92 L 457.53 255.29 L 457.67 253.92 L 458.09 256.01 L 458.23 255.57 L 458.37 253.81 L 458.64 255.82 L 458.78 255.5 L 458.92 254.03 L 459.06 255.85 L 459.2 254.35 L 459.34 255.94 L 459.48 253.92 L 459.76 256.2 L 459.9 254.03 L 460.04 255.44 L 460.17 254.54 L 460.31 255.05 L 460.45 256.12 L 460.87 255.97 L 461.01 256.24 L 461.15 256.26 L 461.29 254.05 L 461.43 256.16 L 461.57 255.13 L 461.7 256.09 L 461.84 255.86 L 461.98 254.08 L 462.26 256.36 L 462.4 253.91 L 462.54 256.24 L 462.96 254.12 L 463.1 254.27 L 463.37 255.26 L 463.65 253.88 L 463.79 253.51 L 463.93 253.49 L 464.07 254.76 L 464.21 253.82 L 464.35 254.01 L 464.49 253.56 L 464.63 255.39 L 464.77 254.63 L 464.9 255.46 L 465.04 254.48 L 465.18 255.9 L 465.32 255.21 L 465.46 256.13 L 465.6 255.86 L 465.74 254.09 L 465.88 255.61 L 466.02 254.19 L 466.3 256.29 L 466.43 254.44 L 466.57 256.26 L 466.71 254.35 L 466.85 256.36 L 466.99 254.73 L 467.13 255.98 L 467.27 255.54 L 467.41 254.04 L 467.55 255.19 L 467.83 254.56 L 467.96 256.11 L 468.1 254.32 L 468.24 254.14 L 468.38 256 L 468.52 255.04 L 468.66 255.69 L 468.8 254.56 L 468.94 256.32 L 469.22 254.44 L 469.36 254.58 L 469.5 256.12 L 469.63 254.34 L 469.77 255.8 L 469.91 254.4 L 470.19 255.99 L 470.33 254.58 L 470.47 254.4 L 470.61 254.67 L 470.75 254.01 L 470.89 255.76 L 471.03 255.81 L 471.16 256.02 L 471.3 255.06 L 471.58 255.51 L 471.72 255.25 L 472 256.37 L 472.14 255.23 L 472.28 255.71 L 472.42 255.28 L 472.56 254.1 L 472.69 255.94 L 472.83 254.82 L 472.97 254.8 L 473.11 255.69 L 473.25 255.23 L 473.39 254 L 473.53 255.54 L 473.81 254.32 L 473.95 255.5 L 474.09 253.95 L 474.36 255.15 L 474.5 254.63 L 474.64 255.34 L 474.78 254.63 L 474.92 255.71 L 475.06 254.11 L 475.34 255.79 L 475.48 255.31 L 475.62 254.18 L 475.76 254.4 L 476.03 255.52 L 476.17 255.46 L 476.31 253.97 L 476.45 256.11 L 476.59 254.2 L 476.73 254.28 L 476.87 255.83 L 477.15 254.98 L 477.42 254.05 L 477.56 253.95 L 477.7 255.69 L 477.84 255.91 L 478.12 255.01 L 478.26 254.77 L 478.4 256.12 L 478.68 254.12 L 479.09 254.12 L 479.23 254.02 L 479.37 256.27 L 479.51 254.13 L 479.65 255.72 L 479.79 255.6 L 479.93 255.26 L 480.07 254.04 L 480.35 255.52 L 480.49 255.47 L 480.62 254.16 L 480.76 254.36 L 480.87 256.05 L 480.9 255.77 L 481.04 255.47 L 481.18 255.85 L 481.32 255 L 481.46 255.84 L 481.74 254.09 L 481.88 254.3 L 482.02 256.15 L 482.15 255.89 L 482.43 254.81 L 482.71 255.79 L 482.85 255.56 L 482.99 255.91 L 483.13 254.3 L 483.41 255.41 L 483.55 254.7 L 483.69 255.15 L 483.82 255.14 L 483.96 255.54 L 484.1 255.24 L 484.24 254.03 L 484.38 254.52 L 484.52 254.42 L 484.66 256.16 L 484.8 255.23 L 484.94 255.57 L 485.08 256.26 L 485.22 255.51 L 485.35 256.31 L 485.49 255.92 L 485.63 254.54 L 485.77 254.82 L 485.91 254.79 L 486.05 256.32 L 486.19 256.12 L 486.33 256.48 L 486.61 256.29 L 486.75 254.19 L 486.88 254.36 L 487.02 256.06 L 487.16 255.94 L 487.3 254.21 L 487.58 255.68 L 487.72 255.44 L 487.86 255.93 L 488.14 254.82 L 488.28 255.35 L 488.42 254.6 L 488.55 256.35 L 488.83 254.2 L 488.97 256.28 L 489.25 255.1 L 489.39 255.83 L 489.53 254.29 L 489.67 255.48 L 489.81 255.5 L 489.95 254.46 L 490.08 256.64 L 490.22 254.55 L 490.36 256.38 L 490.64 255.5 L 490.78 255.53 L 490.92 256.61 L 491.06 255.93 L 491.2 255.84 L 491.34 254.37 L 491.48 254.47 L 491.61 255.29 L 491.75 254.44 L 491.89 254.61 L 492.17 256.45 L 492.31 255.25 L 492.59 256.72 L 492.73 254.33 L 492.87 254.36 L 493.01 255.43 L 493.28 255.1 L 493.42 254.47 L 493.51 255.6 L 493.56 255.32 L 493.7 256.19 L 493.84 256.15 L 493.98 255.47 L 494.26 256.67 L 494.54 254.9 L 494.68 256.07 L 494.81 254.63 L 495.09 255.14 L 495.23 254.55 L 495.37 256.56 L 495.51 256.31 L 495.65 254.51 L 495.79 254.51 L 495.93 256.55 L 496.07 254.84 L 496.21 256.71 L 496.34 256.41 L 496.48 256.47 L 496.76 255.79 L 496.9 254.5 L 497.18 256.43 L 497.32 256.07 L 497.46 256.72 L 497.6 256.67 L 497.88 255.47 L 498.01 256.12 L 498.15 255.8 L 498.29 256.47 L 498.43 255.11 L 498.71 256.33 L 498.85 255.5 L 498.99 256.21 L 499.13 256 L 499.27 256.41 L 499.41 254.8 L 499.54 256.03 L 499.68 254.36 L 499.96 256.33 L 500.1 254.97 L 500.24 254.9 L 500.38 254.54 L 500.52 256.38 L 500.66 254.76 L 500.8 254.58 L 500.94 255.95 L 501.21 255.17 L 501.35 256.08 L 501.49 254.54 L 501.63 254.96 L 501.77 254.57 L 501.91 255.57 L 502.05 255.4 L 502.19 256.19 L 502.33 255.9 L 502.61 254.3 L 502.74 256.29 L 502.88 256.53 L 503.02 256.49 L 503.3 254.7 L 503.44 256.09 L 503.58 255.47 L 503.72 255.37 L 503.86 254.57 L 504.14 256.59 L 504.27 255.38 L 504.55 255.9 L 504.69 254.71 L 504.83 254.93 L 504.97 256.4 L 505.25 254.63 L 505.39 254.35 L 505.53 256.59 L 505.67 254.6 L 505.8 256.47 L 505.94 254.9 L 506.08 255.1 L 506.14 254.23 L 506.36 256.38 L 506.5 254.89 L 506.64 255.9 L 506.78 254.46 L 506.92 256.4 L 507.2 254.76 L 507.34 256.01 L 507.47 254.78 L 507.75 254.49 L 507.89 254.1 L 508.17 255.83 L 508.45 255.14 L 508.59 255.93 L 508.73 254.28 L 508.87 255.83 L 509 255.81 L 509.09 253.64 L 509.14 253.93 L 509.28 255.26 L 509.42 255.01 L 509.56 253.78 L 509.84 255.1 L 509.98 254.61 L 510.12 253.58 L 510.26 255.64 L 510.4 253.16 L 510.67 255.06 L 510.81 253.49 L 510.95 255.22 L 511.2 253.88 L 511.23 254.67 L 511.37 253.01 L 511.51 253.35 L 511.65 254.52 L 511.79 254.38 L 511.93 254.43 L 512.07 252.99 L 512.2 253.75 L 512.48 251.84 L 512.62 251.54 L 512.76 253.28 L 512.9 252.42 L 513.04 252.41 L 513.32 252.03 L 513.46 251.21 L 513.6 252.24 L 513.87 251.88 L 514.01 252.4 L 514.15 251.17 L 514.29 251.68 L 514.35 250.4 L 514.43 250.61 L 514.57 252.02 L 514.71 251.95 L 514.85 250.58 L 514.99 251.09 L 515.13 252.4 L 515.26 250.84 L 515.4 251.39 L 515.54 250.4 L 515.68 250.46 L 515.82 250.01 L 515.96 250.53 L 516.1 249.99 L 516.24 251.52 L 516.38 251.37 L 516.52 252.05 L 516.66 250.06 L 516.8 251.82 L 516.93 250.86 L 517.07 250.98 L 517.21 250.26 L 517.49 251.99 L 517.63 251.45 L 517.77 252.32 L 518.05 251.01 L 518.19 252.49 L 518.33 250.26 L 518.6 252.1 L 518.74 250.86 L 518.88 252.64 L 519.02 252.26 L 519.16 250.82 L 519.3 252.6 L 519.41 251.44 L 519.44 253.06 L 519.72 251.79 L 519.86 252.97 L 519.99 252.77 L 520.13 252.32 L 520.27 252.32 L 520.41 253.49 L 520.55 252.96 L 520.69 251.61 L 520.83 253.39 L 520.97 252.35 L 521.11 253.89 L 521.25 253.36 L 521.53 253.23 L 521.8 252.93 L 521.94 253.25 L 522.22 252.95 L 522.36 254.4 L 522.5 253.23 L 522.64 254.69 L 522.78 254.96 L 522.92 253.56 L 523.06 253.93 L 523.19 255.37 L 523.33 254.16 L 523.47 255.54 L 523.75 254.35 L 523.89 254.21 L 524.17 255.79 L 524.45 253.98 L 524.59 254.08 L 524.72 255.19 L 525.14 254.05 L 525.28 255.03 L 525.42 254.12 L 525.56 255.53 L 525.7 255.8 L 525.84 255.65 L 526.12 254.26 L 526.26 255.3 L 526.39 254.77 L 526.53 256.17 L 526.67 255.28 L 526.92 255.51 L 526.95 256.11 L 527.09 255.06 L 527.23 254.95 L 527.37 255.06 L 527.51 254.82 L 527.65 255.53 L 527.79 254.58 L 527.92 255.29 L 528.06 254.54 L 528.2 255.72 L 528.34 255.02 L 528.62 256.57 L 528.76 254.5 L 529.04 256.71 L 529.32 254.56 L 529.45 254.97 L 529.59 254.45 L 529.73 254.59 L 530.01 256.34 L 530.15 256.76 L 530.43 255.39 L 530.57 254.72 L 530.71 256.96 L 530.85 254.96 L 531.12 255.29 L 531.26 256.68 L 531.4 256.87 L 531.54 255.19 L 531.68 255.43 L 531.82 256.1 L 531.96 256.17 L 532.1 256.94 L 532.24 254.58 L 532.38 254.97 L 532.46 254.63 L 532.65 255.88 L 532.79 254.91 L 532.93 256.47 L 533.07 255.27 L 533.21 256.28 L 533.35 255.83 L 533.49 254.58 L 533.63 255.58 L 533.77 254.33 L 534.05 255.55 L 534.18 255.49 L 534.32 255.96 L 534.46 253.6 L 534.6 254.43 L 535.1 247.07 L 535.16 246.04 L 535.49 230.18 L 536.13 174.25 L 536.97 76.39 L 537.38 1.92 L 537.43 -1 M 549.01 -1 L 549.21 22.09 L 549.82 90.8 L 550.6 143.61 L 550.74 146.16 L 550.88 150.28 L 551.85 187.4 L 552.13 197.37 L 552.83 217.53 L 552.97 218.54 L 553.11 220.97 L 553.38 226.51 L 553.61 227.89 L 553.66 230.75 L 553.8 230.68 L 554.08 235.53 L 554.22 235.31 L 554.5 238 L 554.55 236.79 L 554.77 240.13 L 554.91 239.2 L 555.05 241.4 L 555.19 239.76 L 555.61 243.13 L 555.75 243.27 L 555.83 242.34 L 555.89 242.8 L 556.03 241.95 L 556.17 243.47 L 556.3 243.37 L 556.44 244.22 L 556.72 242.46 L 556.86 244.28 L 557 243.12 L 557.14 244.79 L 557.28 243.14 L 557.56 245.28 L 557.7 243.82 L 557.84 243.73 L 558.03 245.9 L 558.25 245.27 L 558.39 244.44 L 558.53 244.91 L 558.81 247.48 L 558.95 246.39 L 559.09 246.74 L 559.23 247.87 L 559.5 246.69 L 559.62 249.02 L 559.64 248.67 L 559.78 247.74 L 560.06 250.43 L 560.2 250.81 L 560.34 249.83 L 560.62 252.35 L 560.87 251.22 L 560.9 251.29 L 561.03 252.29 L 561.17 251.3 L 561.31 253.37 L 561.45 252.83 L 561.59 253.16 L 561.73 252.86 L 561.87 253.82 L 562.01 254 L 562.15 251.96 L 562.29 253.63 L 562.43 253.11 L 562.57 252.03 L 562.7 253.46 L 562.84 253.22 L 562.98 252.63 L 563.12 253.74 L 563.26 253.73 L 563.4 252.11 L 563.68 253.22 L 564.04 251.24 L 564.1 251.82 L 564.23 252.39 L 564.37 250.72 L 564.51 252.11 L 564.65 250.59 L 564.79 251.9 L 564.93 249.8 L 565.07 250.03 L 565.21 250.54 L 565.35 250.57 L 565.63 249.8 L 565.76 249.99 L 565.9 249.62 L 565.93 251.12 L 566.18 249.5 L 566.32 250.31 L 566.46 249.04 L 566.74 250.77 L 566.88 249.42 L 567.02 250.65 L 567.43 249.85 L 567.57 251.54 L 567.71 250 L 567.99 251.45 L 568.13 251.63 L 568.16 250.05 L 568.27 250.23 L 568.55 252.01 L 568.69 250.64 L 568.83 253.2 L 568.96 253.32 L 569.1 252.46 L 569.24 252.42 L 569.38 254.06 L 569.52 253.81 L 569.66 254.24 L 569.8 254 L 570.08 254.56 L 570.22 254.62 L 570.36 254.06 L 570.49 254.67 L 570.63 253.1 L 570.91 254.74 L 571.19 253.11 L 571.47 255.05 L 571.61 253.48 L 571.89 252.9 L 572.58 254.95 L 572.72 253.09 L 572.86 253.73 L 573 254.8 L 573.14 254.39 L 573.28 253.22 L 573.56 254.91 L 573.69 254.08 L 573.83 254.15 L 573.97 253.23 L 574.25 253.69 L 574.39 252.4 L 574.53 252.68 L 574.67 254.38 L 574.95 253.55 L 575.09 254.35 L 575.22 252.6 L 575.36 252.52 L 575.42 253.66 L 575.5 252.12 L 575.78 253.66 L 575.92 252.61 L 576.2 252.21 L 576.34 251.5 L 576.48 251.54 L 576.62 252.65 L 576.76 252.48 L 576.89 253.35 L 577.03 252.24 L 577.17 252.66 L 577.31 252.63 L 577.45 250.72 L 577.59 252.46 L 577.62 252.15 L 577.73 250.6 L 578.01 250.19 L 578.15 248.58 L 578.29 249.2 L 578.42 248.42 L 578.56 246.74 L 578.7 246.62 L 579.12 239.92 L 579.26 237.85 L 579.4 237.94 L 579.82 231.05 L 580.23 226.05 L 580.37 224.8 L 580.46 221.79 L 580.51 222.68 L 580.65 219.39 L 580.79 220.27 L 580.93 216.85 L 581.07 216.19 L 581.21 216.24 L 581.49 213.16 L 581.9 211.52 L 582.04 212.18 L 582.18 210.6 L 582.32 212.32 L 582.46 210.73 L 582.6 212.81 L 582.74 212.87 L 582.88 212.77 L 583.02 213.12 L 583.29 216.24 L 583.32 215.03 L 583.57 216 L 583.71 218.07 L 583.85 217.69 L 585.38 230.61 L 585.52 230.04 L 585.66 231.31 L 585.8 233.6 L 585.83 232.93 L 585.94 232.68 L 586.08 233.27 L 586.49 236.87 L 586.63 237.9 L 586.77 238 L 586.91 238.57 L 587.05 237.16 L 587.11 237.18 L 587.19 237.78 L 587.33 236.56 L 587.47 238.11 L 587.61 237.64 L 587.75 236.18 L 587.88 235.9 L 588.02 236.38 L 588.16 233.91 L 588.3 234.07 L 588.36 233.9 L 588.44 234.12 L 588.58 232.82 L 588.72 233.28 L 589.14 229.5 L 589.28 229.13 L 589.3 230.21 L 589.69 227.01 L 589.83 227.02 L 589.97 228.66 L 590.11 228.48 L 590.25 228.09 L 590.39 226.64 L 590.53 228.37 L 590.81 228.9 L 590.95 228.15 L 591.08 229.09 L 591.22 228.7 L 591.36 231.03 L 591.5 231.43 L 591.53 229.53 L 591.64 231.59 L 591.78 230.42 L 591.92 231.03 L 592.06 232.34 L 592.2 232.52 L 592.34 231.63 L 592.48 233.63 L 592.61 231.51 L 592.75 233.85 L 592.84 233.58 L 592.89 232.4 L 593.03 233.61 L 593.17 231.28 L 593.45 233.05 L 593.59 232.48 L 593.87 229.96 L 594.01 231.03 L 594.56 228.1 L 594.7 228.56 L 594.84 227.89 L 595.12 225.31 L 595.26 225.83 L 595.4 223.69 L 595.54 224.97 L 595.81 221.64 L 595.95 221.7 L 596.01 221.08 L 596.09 222.14 L 596.37 218.66 L 596.79 216.75 L 596.93 214.07 L 597.07 213.98 L 597.21 213.06 L 597.26 213.89 L 597.34 212.42 L 597.48 212.8 L 597.62 210.96 L 597.76 212.27 L 598.32 209.53 L 598.46 211.9 L 598.6 210.93 L 598.74 212.69 L 598.87 212.4 L 599.15 214.13 L 599.29 214.07 L 599.85 219 L 599.99 218.51 L 600.13 221.61 L 600.27 221.1 L 600.41 224.39 L 600.54 223.73 L 600.82 228.85 L 600.96 230.08 L 601.1 230.02 L 601.38 233.78 L 601.52 233.98 L 601.66 236.6 L 601.8 236.27 L 602.07 238.96 L 602.21 237.95 L 602.49 241.01 L 602.63 240.71 L 602.77 240.96 L 603.05 243.87 L 603.19 242.29 L 603.24 243.77 L 603.33 243.74 L 603.47 244.32 L 603.6 243.77 L 603.74 245.1 L 603.88 244.63 L 604.16 246.9 L 604.44 245.53 L 604.86 248.25 L 605 246.78 L 605.27 248.03 L 605.55 248.08 L 605.83 248.65 L 605.97 248.36 L 606.11 249.5 L 606.39 248.76 L 606.53 247.77 L 606.67 249 L 606.8 248.78 L 606.94 248.05 L 607.5 249.11 L 607.64 250.17 L 608.06 250.59 L 608.2 249.37 L 608.33 249.43 L 608.47 250.87 L 608.61 248.94 L 608.75 249.96 L 608.89 249.76 L 609.03 250.94 L 609.17 249.05 L 609.31 251 L 609.45 250.71 L 609.59 250.12 L 609.87 250.01 L 610 249.05 L 610.14 251.3 L 610.28 249.74 L 610.42 250.37 L 610.56 249.45 L 610.7 249.83 L 610.98 249.37 L 611.12 249.58 L 611.26 251.18 L 611.53 249.61 L 611.67 249.22 L 611.95 251.44 L 612.09 249.64 L 612.23 250.71 L 612.37 249.73 L 612.51 251.17 L 612.79 249.62 L 612.93 250.79 L 613.06 250.25 L 613.2 250.6 L 613.34 248.68 L 613.76 249.32 L 613.82 248.15 L 613.9 249.85 L 614.04 248.61 L 614.18 249.96 L 614.32 248.43 L 614.6 249.42 L 614.73 246.9 L 614.87 248.13 L 615.01 246.04 L 615.15 246.44 L 615.4 245.76 L 615.43 244.89 L 615.57 246.36 L 615.71 244.01 L 615.85 245.12 L 615.99 245.09 L 616.13 242.4 L 616.26 243.7 L 616.54 240.15 L 616.65 240.72 L 616.68 239.42 L 617.1 235.7 L 618.63 197.85 L 618.77 197.78 L 619.05 194.5 L 619.07 194.86 L 619.19 194.49 L 619.33 194.89 L 619.46 194.87 L 620.02 191.56 L 620.16 193.27 L 620.58 189.76 L 620.72 190.79 L 620.86 188.57 L 620.97 189.27 L 620.99 186.96 L 621.13 187.27 L 621.55 180.51 L 621.91 176.14 L 622.11 173.82 L 622.66 167.71 L 622.8 168.11 L 623.08 167.26 L 623.22 167.28 L 623.36 167.47 L 623.5 166.68 L 623.64 167.43 L 623.92 166.1 L 624.19 166.78 L 624.44 169.15 L 624.47 168.8 L 624.61 168.52 L 624.89 171.85 L 625.03 170.99 L 625.31 175.97 L 625.39 175.58 L 625.45 175.59 L 625.86 179.91 L 626 181.67 L 626.14 179.72 L 626.28 182.07 L 626.56 180.36 L 626.7 180.89 L 626.84 182.15 L 626.98 182.36 L 627.12 181.35 L 627.25 182.23 L 627.39 180.1 L 627.67 180.86 L 627.81 179.47 L 627.95 180.57 L 628.09 179.59 L 628.23 179.42 L 628.37 180.23 L 628.51 178.33 L 628.65 178.4 L 628.79 179.44 L 628.92 178.71 L 629.06 178.86 L 629.2 177.2 L 629.34 177.78 L 629.48 177.06 L 629.51 177.5 L 629.62 177.48 L 629.76 178.82 L 629.9 177.77 L 630.04 179.4 L 630.18 178.64 L 630.45 180.51 L 630.59 181.97 L 630.73 181.55 L 630.76 181.63 L 630.87 182.14 L 631.15 185.75 L 631.43 187.46 L 631.57 190.59 L 631.71 190.43 L 631.85 191.62 L 631.98 195.18 L 632.12 195 L 632.54 200.35 L 632.68 201.37 L 632.82 203.58 L 632.96 203.27 L 633.1 205.46 L 633.24 205.48 L 633.38 206.54 L 633.79 212.26 L 633.93 212.73 L 634.35 220.02 L 634.57 222.27 L 634.63 220.83 L 634.91 224.45 L 635.05 224.92 L 635.46 230.59 L 635.6 231.33 L 635.82 231.43 L 635.88 233.1 L 636.02 233.42 L 636.3 235.2 L 636.44 235.13 L 636.58 234.88 L 636.71 235.31 L 636.99 238.7 L 637.13 238.57 L 637.41 237.88 L 637.55 240.23 L 637.72 238.92 L 637.83 241.19 L 637.97 239.58 L 638.11 240.72 L 638.25 240.47 L 638.52 241.6 L 638.66 241.46 L 638.8 242.06 L 639.08 243.63 L 639.22 242.48 L 639.36 244.51 L 639.5 244.51 L 639.64 245.35 L 639.91 244.78 L 640.05 245.98 L 640.25 245.28 L 640.33 245.96 L 640.47 245.27 L 640.75 246.75 L 640.89 245.97 L 641.31 247.93 L 641.44 246.08 L 641.58 248.25 L 641.86 247.57 L 642 246.87 L 642.28 249.18 L 642.56 247.39 L 642.7 248.74 L 642.78 247.47 L 642.84 249.17 L 642.98 247.91 L 643.11 250.19 L 643.39 248.23 L 643.53 249.83 L 643.67 248.54 L 644.09 250.81 L 644.23 249.39 L 644.37 250.18 L 644.51 249.85 L 644.78 251.31 L 644.92 251.19 L 645.06 249.92 L 645.2 251.25 L 645.34 250.9 L 645.48 250.23 L 645.62 251.06 L 645.76 250.62 L 645.9 250.81 L 645.92 249.92 L 646.17 251.2 L 646.31 249.51 L 646.45 251.54 L 646.59 250.43 L 646.73 250.5 L 646.87 251.21 L 647.01 250.27 L 647.15 250.27 L 647.57 251.93 L 647.71 250.1 L 647.84 249.84 L 647.98 251.6 L 648.12 251.52 L 648.4 250.43 L 648.54 250.29 L 648.96 250.89 L 649.1 252.39 L 649.37 250.71 L 649.51 251.71 L 649.65 251.86 L 649.79 251.13 L 649.93 252.45 L 650.07 250.63 L 650.21 250.74 L 650.35 251.94 L 650.49 251.88 L 650.63 252.07 L 650.77 251.49 L 650.9 250.15 L 651.04 251.55 L 651.18 250.24 L 651.32 252.07 L 651.46 251.94 L 651.6 251.28 L 651.74 252.16 L 651.88 252.26 L 652.02 250.89 L 652.16 251.7 L 652.3 250.82 L 652.44 251.99 L 652.57 251.81 L 652.71 250.35 L 652.99 252.25 L 653.13 251.52 L 653.27 252.31 L 653.41 252.39 L 653.55 251.17 L 653.69 252.28 L 653.83 252.03 L 653.97 252.38 L 654.1 252.29 L 654.13 251.46 L 654.24 252.15 L 654.52 251.49 L 654.8 252.22 L 654.94 252.19 L 655.08 250.23 L 655.22 251.69 L 655.36 251.42 L 655.5 250.68 L 655.63 250.59 L 655.77 250.81 L 655.91 250.32 L 656.19 252.09 L 656.33 250.98 L 656.47 251.37 L 656.61 250.43 L 656.75 251.86 L 656.89 250.78 L 657.03 252.41 L 657.17 251.48 L 657.3 251.56 L 657.44 252.16 L 657.58 250.36 L 657.72 250.33 L 657.86 251.73 L 658 250.11 L 658.28 251.31 L 658.42 250.45 L 658.56 251.03 L 658.83 250.07 L 658.97 250.79 L 659.11 249.66 L 659.25 249.8 L 659.39 249.33 L 659.5 249.85 L 659.53 248.66 L 659.67 249.58 L 659.95 246.71 L 660.09 246.73 L 660.37 242.52 L 660.45 242.8 L 660.64 238.84 L 662.17 209.86 L 662.45 199.16 L 663.29 174.27 L 663.84 162.88 L 663.98 162.51 L 664.12 162.38 L 664.4 159.02 L 664.54 159.2 L 664.82 157.61 L 664.87 159.06 L 664.96 158.44 L 665.1 157.76 L 665.37 160.89 L 665.51 159.74 L 665.65 160.85 L 665.79 163.9 L 665.82 162.8 L 666.07 165.93 L 667.04 186.99 L 667.18 187.52 L 667.46 192.32 L 667.6 193.4 L 667.88 199.23 L 668.02 201.01 L 668.04 199.85 L 668.57 209.33 L 668.68 209.14 L 668.71 210.78 L 668.85 211.83 L 669.96 228.9 L 670.1 229.87 L 670.52 235.97 L 670.66 237.03 L 670.8 239.13 L 670.94 239.28 L 671.63 246.28 L 671.77 245.56 L 672.05 249.12 L 672.19 248.91 L 672.33 248.97 L 672.75 250.42 L 672.89 251.95 L 673.02 251.91 L 673.08 253.52 L 673.16 252.28 L 673.58 254.24 L 673.72 253.41 L 673.86 254.86 L 674 254.82 L 674.14 254.97 L 674.28 254.24 L 674.56 256.28 L 674.69 256.18 L 674.83 255.01 L 674.97 256.74 L 675 255.52 L 675.39 256.28 L 675.53 255.9 L 675.67 257.15 L 675.95 256.43 L 676.09 257.18 L 676.22 256.31 L 676.5 257.56 L 676.64 257.46 L 677.06 255.96 L 677.34 257.89 L 677.62 255.84 L 677.75 257.96 L 677.89 257.24 L 678.03 258.07 L 678.14 256.7 L 678.17 257.86 L 678.31 255.81 L 678.45 257.12 L 678.59 256.6 L 678.73 257.32 L 678.87 257.31 L 679.01 258.11 L 679.15 256.01 L 679.29 257.48 L 679.42 257.54 L 679.56 257.27 L 679.7 257.7 L 679.84 257.39 L 679.98 257.47 L 680.12 255.77 L 680.26 256.01 L 680.4 257.48 L 680.54 256.11 L 680.68 258.08 L 680.95 256.06 L 681.09 257.65 L 681.23 257.79 L 681.37 256.24 L 681.51 256.59 L 681.65 255.8 L 681.79 257.81 L 681.93 257.84 L 682.07 258.07 L 682.21 257.41 L 682.35 258.09 L 682.48 256.7 L 682.62 258 L 682.76 257.1 L 682.9 256.95 L 683.04 258 L 683.32 255.78 L 683.46 257.26 L 683.6 256.95 L 683.74 257.3 L 683.88 255.82 L 684.02 256.14 L 684.15 255.85 L 684.29 257.28 L 684.43 257.45 L 684.57 258.19 L 684.71 258.05 L 684.85 255.88 L 685.13 257.14 L 685.27 257.85 L 685.41 255.93 L 685.55 258.14 L 685.68 256.65 L 685.82 256.77 L 685.96 256.45 L 686.1 256.42 L 686.38 256.88 L 686.52 257.18 L 686.66 256.28 L 686.8 257.92 L 686.94 257.55 L 687.21 256.06 L 687.35 256.62 L 687.49 258.13 L 687.63 256.21 L 687.77 255.87 L 687.91 257.12 L 688.19 257.39 L 688.33 256.76 L 688.47 257.83 L 688.61 257.92 L 688.75 255.82 L 688.88 257.02 L 689.02 256.99 L 689.13 257.51 L 689.13 257.51" clip-path="url(#p00116fa853)" filter="url(#bl1)" style="fill: none; stroke: #ff7f0e; stroke-width: 1.5; stroke-linecap: square"/>
   </g>
   <g id="line2d_33">
    <path d="M 422.06 211.49 L 425.73 211.39 L 427.18 211.26 L 427.4 209.82 L 428.76 188.95 L 429.07 188.47 L 429.4 188.26 L 429.74 191.09 L 430.07 195.05 L 430.99 202.15 L 431.74 205.98 L 431.93 206.25 L 432.41 206.1 L 433.19 205.8 L 433.41 206.18 L 434.13 209.07 L 434.74 210.15 L 435.08 210.54 L 435.41 210.67 L 438.08 210.59 L 438.75 209.44 L 439.2 208.76 L 439.75 208.34 L 440.25 208.16 L 440.42 208.23 L 440.75 208.7 L 441.42 209.97 L 441.75 210.23 L 443.09 210.46 L 443.76 210.48 L 444.43 210.26 L 445.76 209.63 L 446.43 209.58 L 449.1 209.61 L 450.1 206.33 L 450.55 205.61 L 450.77 205.76 L 452.44 208.52 L 453.11 209.12 L 453.77 209.46 L 455.44 209.84 L 456.45 209.83 L 457.5 208.98 L 457.78 209.07 L 458.76 209.71 L 459.45 209.6 L 460.45 209.45 L 461.12 209.72 L 462.12 210.36 L 462.79 210.5 L 466.8 210.66 L 469.13 210.59 L 471.8 210.22 L 472.47 210.5 L 473.31 210.85 L 478.82 210.98 L 487.16 210.93 L 491.17 210.76 L 492.51 210.41 L 496.18 209.34 L 497.85 209 L 498.85 209.03 L 500.18 209.37 L 504.86 210.79 L 505.86 210.84 L 507.2 210.72 L 508.67 210.35 L 508.87 210.21 L 509.2 209.67 L 509.53 208.73 L 509.92 207.16 L 510.2 204.62 L 510.56 197.74 L 511.2 162.99 L 511.54 136.01 L 511.87 118.82 L 512.54 54.35 L 513.03 -1 M 518.76 -1 L 518.88 2.25 L 519.55 39.15 L 520.22 61.51 L 522.55 123.16 L 524.22 155.39 L 524.89 164.58 L 525.56 170.89 L 527.4 185.08 L 528.23 189.79 L 529.23 194.39 L 530.23 198.29 L 530.9 200.31 L 531.9 202.61 L 533.07 204.66 L 534.57 206.75 L 535.24 207.43 L 536.24 208.1 L 537.58 208.73 L 538.91 209.1 L 541.25 209.42 L 542.92 209.42 L 546.26 209.14 L 551.6 208.54 L 553.27 208.11 L 554.61 207.49 L 555.28 206.71 L 557.22 203.75 L 559.28 203.67 L 559.95 203.05 L 560.62 202.06 L 560.95 201.31 L 561.62 198.76 L 561.95 196.74 L 562.65 188.26 L 563.29 178.79 L 563.62 176.67 L 564.04 175.29 L 564.62 174.87 L 565.29 174.69 L 565.96 174.88 L 566.63 175.34 L 566.96 175.94 L 567.96 178.41 L 568.63 179.54 L 569.1 180.02 L 569.63 180.26 L 570.05 180.34 L 570.3 180.26 L 570.97 179.47 L 571 179.43 L 571.3 178.56 L 572.3 173.73 L 572.89 171.19 L 573.3 170.58 L 573.39 170.55 L 573.64 170.91 L 574.14 172.14 L 574.64 172.61 L 575.09 172.78 L 575.31 172.73 L 576.37 172.14 L 576.64 172.3 L 577.98 174.07 L 578.56 174.38 L 578.65 174.37 L 578.98 174.2 L 579.65 173.38 L 579.98 172.65 L 581.32 166.62 L 581.74 165.82 L 581.99 165.91 L 582.68 166.77 L 582.99 167.34 L 583.66 169.49 L 583.99 171.7 L 585.52 184.44 L 585.99 186.59 L 586.47 187.63 L 586.99 187.54 L 588.05 187.31 L 588.33 187.63 L 589.94 191.72 L 590.33 192.17 L 590.69 192.36 L 591 192.1 L 591.53 190.77 L 591.67 190.08 L 593.34 175.29 L 594.67 165.82 L 595.12 164.9 L 595.34 165.48 L 596.01 169.72 L 597.01 178.1 L 597.82 185.08 L 598.35 188.03 L 598.79 189.49 L 599.35 190.11 L 599.46 190.13 L 599.68 189.97 L 600.68 188.26 L 601.35 188.42 L 603.24 189.08 L 603.35 189.04 L 603.69 188.48 L 604.36 186.38 L 605.02 182.69 L 605.69 177.48 L 606.03 173.47 L 607.36 143.06 L 607.81 140.54 L 608.03 141.21 L 609.36 151.41 L 609.78 152.88 L 610.03 152.68 L 610.37 151.83 L 610.73 150.33 L 611.03 146.58 L 611.7 131.11 L 612.37 113.71 L 612.76 90.59 L 613.09 58.99 L 613.56 -1 M 627.2 -1 L 627.53 2.25 L 628.06 34.4 L 629.81 75.11 L 630.4 81.82 L 630.76 84.22 L 631.4 85.97 L 632.07 87.93 L 632.65 90.59 L 632.74 91.2 L 633.4 100.22 L 634.74 121.88 L 635.52 134.76 L 636.74 147.58 L 637.41 160.87 L 638.41 182.36 L 639.08 192.44 L 639.75 199.4 L 640.42 203.83 L 641.08 206.83 L 641.75 208.52 L 642.42 209.67 L 643.09 210.25 L 644.09 210.81 L 645.09 211.1 L 647.43 211.24 L 652.1 211.3 L 657.3 211.17 L 657.44 211.15 L 657.78 210.98 L 658.45 210.21 L 658.56 210.03 L 658.78 209.36 L 659.11 207.38 L 659.5 204.02 L 659.78 200.08 L 660.78 177.25 L 661.78 153.41 L 662.12 149.39 L 662.37 148.15 L 662.45 148.21 L 662.79 149.45 L 663.12 151.61 L 663.45 155.52 L 664.46 170.56 L 665.12 177.85 L 666.15 185.08 L 667.46 193.09 L 668.46 198.03 L 669.63 202.79 L 670.8 206.73 L 671.52 208.44 L 672.47 209.86 L 673.14 210.52 L 673.8 210.81 L 675.14 211.18 L 676.47 211.31 L 685.16 211.47 L 689.13 211.49 L 689.13 211.49" clip-path="url(#p00116fa853)" filter="url(#bl1)" style="fill: none; stroke: #2ca02c; stroke-width: 1.5; stroke-linecap: square"/>
   </g>
   <g id="line2d_34">
    <path d="M 422.06 165.82 L 424.39 165.72 L 425.92 165.5 L 426.06 164.93 L 426.4 160.18 L 427.4 136.74 L 428.07 121.79 L 428.32 119.41 L 428.4 119.67 L 428.73 124.44 L 429.4 139.78 L 429.85 150.24 L 430.4 157.18 L 430.65 158.26 L 430.74 158.12 L 431.07 155.47 L 431.74 146.15 L 432.07 139.84 L 432.35 137.4 L 432.41 137.48 L 432.74 140.53 L 434.08 160.2 L 434.74 163.8 L 435.08 164.59 L 435.75 165.17 L 436.41 165.47 L 437.41 165.49 L 440.09 165.31 L 442.42 164.98 L 443.09 164.57 L 444.43 163.44 L 445.09 163.32 L 447.1 163.43 L 448.1 162.87 L 448.77 162.56 L 449.1 162.54 L 449.77 162.82 L 451.1 163.61 L 452.11 163.73 L 454.78 163.99 L 456.45 164.54 L 457.78 164.88 L 459.12 164.88 L 460.45 164.74 L 461.12 164.19 L 461.79 163.65 L 462.12 163.65 L 462.79 163.96 L 463.79 164.53 L 464.46 164.57 L 466.13 164.23 L 467.13 164.13 L 469.8 164.29 L 472.14 164.35 L 479.48 164.35 L 485.49 164.8 L 494.17 164.9 L 497.85 164.74 L 501.19 164.42 L 503.86 163.87 L 506.19 163.22 L 508.87 162.3 L 510.87 162.02 L 512.87 161.9 L 514.21 162.06 L 517.21 162.8 L 523.89 164.23 L 524.56 164.26 L 524.89 163.87 L 525.36 162.35 L 525.56 160.64 L 525.89 154.98 L 526.26 143.41 L 526.56 127.04 L 526.9 118.82 L 528.23 50.05 L 528.9 15.02 L 529.23 1.97 L 529.87 -1 M 547.57 -1 L 548.26 2.58 L 548.74 29.57 L 549.27 41.32 L 549.93 57.17 L 551.6 101.46 L 552.35 115.86 L 552.97 121.55 L 554.94 134.2 L 555.94 139.47 L 556.61 142.07 L 557.61 144.94 L 558.61 147.17 L 559.95 149.51 L 563.4 154.8 L 565.29 156.92 L 566.57 157.98 L 568.3 158.99 L 569.72 159.53 L 571.64 159.93 L 572.3 159.91 L 572.97 159.71 L 573.83 159.21 L 573.97 159.08 L 574.31 158.52 L 574.97 156.47 L 575.09 156.03 L 575.31 154.66 L 576.31 144.15 L 577.65 129.39 L 578.31 124.24 L 578.87 121.6 L 579.31 120.78 L 579.82 120.37 L 579.98 120.5 L 580.32 121.35 L 580.98 124.13 L 583.29 138.4 L 583.99 140.17 L 584.38 140.54 L 584.66 140.33 L 585.32 138.86 L 585.99 137.07 L 586.66 135.34 L 586.99 135.05 L 587.66 134.76 L 587.72 134.76 L 588 134.99 L 589 137.08 L 589.67 137.74 L 590.31 138.04 L 590.33 138.04 L 590.67 137.87 L 591.33 136.86 L 592 135.39 L 592.67 132.71 L 594.7 122.92 L 595.34 121.81 L 595.73 121.55 L 596.01 121.87 L 596.34 122.89 L 597.01 125.95 L 599.68 145.63 L 600.68 150.66 L 601.35 153.03 L 602.35 155.59 L 603.08 156.84 L 604.02 157.99 L 605.02 158.87 L 606.03 159.41 L 607.36 159.96 L 608.36 160.16 L 610.03 160.13 L 611.03 160.04 L 611.7 159.68 L 612.37 159.04 L 613.04 158.21 L 613.7 156.84 L 614.46 154.48 L 615.04 152.2 L 615.37 149.94 L 615.71 146.14 L 616.04 131.9 L 616.71 121.3 L 617.82 106.35 L 618.05 106 L 618.46 105.71 L 618.71 105.84 L 619.71 106.98 L 620.05 104.82 L 620.72 96.45 L 621.38 90.59 L 621.72 88.84 L 622.39 86.71 L 622.72 86.36 L 623.19 86.17 L 623.39 86.49 L 624.14 90.59 L 625.08 96.28 L 625.39 96.75 L 625.72 96.97 L 626.06 96.78 L 626.39 96.29 L 627.06 94.77 L 628.73 87.52 L 628.87 87.4 L 629.06 87.59 L 629.4 88.62 L 629.81 90.59 L 630.07 92.43 L 632.4 116.44 L 633.4 126.24 L 634.57 134.3 L 635.74 140.71 L 637.08 147.05 L 638.75 153.72 L 639.41 155.67 L 640.42 157.92 L 641.08 159.05 L 641.75 159.76 L 643.09 160.75 L 644.09 161.23 L 645.42 161.55 L 648.09 161.91 L 651.77 162.14 L 655.11 162.21 L 656.44 162 L 657.44 161.63 L 657.78 161.21 L 658.45 159.57 L 658.78 158.15 L 659.45 152.2 L 659.78 147.89 L 661.12 124.16 L 662.45 100.43 L 662.79 97.37 L 663.12 95.27 L 663.45 93.97 L 663.62 93.78 L 663.79 93.99 L 664.12 95.48 L 664.57 98.79 L 664.79 101.66 L 665.79 119.66 L 667.13 134.72 L 668.8 150.87 L 669.46 155.04 L 670.13 158.23 L 670.8 160.46 L 671.8 162.91 L 672.47 163.9 L 673.47 164.79 L 674.47 165.36 L 675.47 165.56 L 678.14 165.79 L 681.48 165.81 L 689.13 165.72 L 689.13 165.72" clip-path="url(#p00116fa853)" filter="url(#bl1)" style="fill: none; stroke: #d62728; stroke-width: 1.5; stroke-linecap: square"/>
   </g>
   <g id="patch_8">
    <path d="M 408.7 325.55 L 408.7 29.57" style="fill: none; stroke: #000000; stroke-width: 0.8; stroke-linejoin: miter; stroke-linecap: square"/>
   </g>
   <g id="patch_9">
    <path d="M 702.52 325.55 L 702.52 29.57" style="fill: none; stroke: #000000; stroke-width: 0.8; stroke-linejoin: miter; stroke-linecap: square"/>
   </g>
   <g id="patch_10">
    <path d="M 408.7 325.55 L 702.52 325.55" style="fill: none; stroke: #000000; stroke-width: 0.8; stroke-linejoin: miter; stroke-linecap: square"/>
   </g>
   <g id="patch_11">
    <path d="M 408.7 29.57 L 702.52 29.57" style="fill: none; stroke: #000000; stroke-width: 0.8; stroke-linejoin: miter; stroke-linecap: square"/>
   </g>
   <g id="ha1B">
    <text class="ha1" x="555.822" y="107.197" font-size="10" text-anchor="start" letter-spacing="0.122">HA1 peaks</text>
   </g>
   <g id="text_33">
    <text class="letter" x="371.025" y="25.431" font-size="20" text-anchor="start" font-weight="700">B</text>
   </g>
   <g id="text_34">
    <text class="title" x="555.343" y="24.183" font-size="12" text-anchor="middle" letter-spacing="0.076">Random Samples - Low Resolution</text>
   </g>
  </g>
  <g id="axes_3">
   <g id="patch_12">
    <path d="M 49.25 684.94 L 343.07 684.94 L 343.07 388.96 L 49.25 388.96 z" style="fill: #ffffff"/>
   </g>
   <g id="matplotlib.axis_5">
    <g id="xtick_13">
     <g id="line2d_35">
      <g>
       <use href="#m1504cfccaf" x="62.604061" y="684.944162" style="stroke: #000000; stroke-width: 0.8"/>
      </g>
     </g>
     <g id="text_35">
      <text class="xtick" x="62.604" y="700.548" font-size="10" text-anchor="middle">0</text>
     </g>
    </g>
    <g id="xtick_14">
     <g id="line2d_36">
      <g>
       <use href="#m1504cfccaf" x="118.251269" y="684.944162" style="stroke: #000000; stroke-width: 0.8"/>
      </g>
     </g>
     <g id="text_36">
      <text class="xtick" x="118.114" y="700.548" font-size="10" text-anchor="middle" letter-spacing="-0.274">2000</text>
     </g>
    </g>
    <g id="xtick_15">
     <g id="line2d_37">
      <g>
       <use href="#m1504cfccaf" x="173.898477" y="684.944162" style="stroke: #000000; stroke-width: 0.8"/>
      </g>
     </g>
     <g id="text_37">
      <text class="xtick" x="173.761" y="700.548" font-size="10" text-anchor="middle" letter-spacing="-0.274">4000</text>
     </g>
    </g>
    <g id="xtick_16">
     <g id="line2d_38">
      <g>
       <use href="#m1504cfccaf" x="229.545685" y="684.944162" style="stroke: #000000; stroke-width: 0.8"/>
      </g>
     </g>
     <g id="text_38">
      <text class="xtick" x="229.409" y="700.548" font-size="10" text-anchor="middle" letter-spacing="-0.274">6000</text>
     </g>
    </g>
    <g id="xtick_17">
     <g id="line2d_39">
      <g>
       <use href="#m1504cfccaf" x="285.192893" y="684.944162" style="stroke: #000000; stroke-width: 0.8"/>
      </g>
     </g>
     <g id="text_39">
      <text class="xtick" x="285.056" y="700.548" font-size="10" text-anchor="middle" letter-spacing="-0.274">8000</text>
     </g>
    </g>
    <g id="xtick_18">
     <g id="line2d_40">
      <g>
       <use href="#m1504cfccaf" x="340.840102" y="684.944162" style="stroke: #000000; stroke-width: 0.8"/>
      </g>
     </g>
     <g id="text_40">
      <text class="xtick" x="340.703" y="700.548" font-size="10" text-anchor="middle" letter-spacing="-0.274">10000</text>
     </g>
    </g>
    <g id="text_41">
     <text class="xlabel" x="195.754" y="714.317" font-size="10" text-anchor="middle" letter-spacing="0.046">Time Index</text>
    </g>
   </g>
   <g id="matplotlib.axis_6">
    <g id="ytick_15">
     <g id="line2d_41">
      <g>
       <use href="#m5d545ce8f8" x="49.248731" y="662.176494" style="stroke: #000000; stroke-width: 0.8"/>
      </g>
     </g>
     <g id="text_42">
      <text class="ytick" x="41.792" y="666.585" font-size="10" text-anchor="end">0</text>
     </g>
    </g>
    <g id="ytick_16">
     <g id="line2d_42">
      <g>
       <use href="#m5d545ce8f8" x="49.248731" y="616.641156" style="stroke: #000000; stroke-width: 0.8"/>
      </g>
     </g>
     <g id="text_43">
      <text class="ytick" x="41.792" y="621.050" font-size="10" text-anchor="end">1</text>
     </g>
    </g>
    <g id="ytick_17">
     <g id="line2d_43">
      <g>
       <use href="#m5d545ce8f8" x="49.248731" y="571.105818" style="stroke: #000000; stroke-width: 0.8"/>
      </g>
     </g>
     <g id="text_44">
      <text class="ytick" x="41.792" y="575.514" font-size="10" text-anchor="end">2</text>
     </g>
    </g>
    <g id="ytick_18">
     <g id="line2d_44">
      <g>
       <use href="#m5d545ce8f8" x="49.248731" y="525.57048" style="stroke: #000000; stroke-width: 0.8"/>
      </g>
     </g>
     <g id="text_45">
      <text class="ytick" x="41.792" y="529.979" font-size="10" text-anchor="end">3</text>
     </g>
    </g>
    <g id="ytick_19">
     <g id="line2d_45">
      <g>
       <use href="#m5d545ce8f8" x="49.248731" y="480.035143" style="stroke: #000000; stroke-width: 0.8"/>
      </g>
     </g>
     <g id="text_46">
      <text class="ytick" x="41.792" y="484.443" font-size="10" text-anchor="end">4</text>
     </g>
    </g>
    <g id="ytick_20">
     <g id="line2d_46">
      <g>
       <use href="#m5d545ce8f8" x="49.248731" y="434.499805" style="stroke: #000000; stroke-width: 0.8"/>
      </g>
     </g>
     <g id="text_47">
      <text class="ytick" x="41.792" y="438.908" font-size="10" text-anchor="end">5</text>
     </g>
    </g>
    <g id="ytick_21">
     <g id="line2d_47">
      <g>
       <use href="#m5d545ce8f8" x="49.248731" y="388.964467" style="stroke: #000000; stroke-width: 0.8"/>
      </g>
     </g>
     <g id="text_48">
      <text class="ytick" x="41.792" y="393.373" font-size="10" text-anchor="end">6</text>
     </g>
    </g>
    <g id="text_49">
     <text class="ylabel" x="29.167" y="539.086" font-size="10" text-anchor="middle" transform="rotate(-90 29.167 539.086)">Intensity</text>
    </g>
   </g>
   <g id="line2d_48">
    <path d="M 62.6 661.77 L 64.94 661.65 L 66.19 661.45 L 66.28 661.32 L 66.61 659.17 L 67.14 654.8 L 67.61 652.5 L 68.09 651.34 L 68.28 651.8 L 69.28 657.73 L 69.62 658.95 L 69.98 659.54 L 70.28 659.39 L 70.95 658.58 L 71.9 657.03 L 71.95 657.06 L 72.29 657.95 L 72.84 659.85 L 73.62 660.72 L 74.29 661.17 L 74.96 661.27 L 80.63 661.15 L 81.97 661.02 L 83.64 660.6 L 85.64 660.09 L 86.98 659.99 L 90.65 660.14 L 92.65 660.37 L 94.66 660.62 L 94.99 660.62 L 95.32 660.19 L 95.88 659.22 L 96.33 658.86 L 96.72 658.72 L 96.99 658.91 L 97.66 659.82 L 98 659.85 L 99.67 659.79 L 101.33 660.81 L 105.01 660.68 L 107.34 660.67 L 109.01 660.98 L 111.35 660.66 L 114.69 660.99 L 126.71 660.88 L 128.71 660.56 L 129.38 660.32 L 130.05 659.6 L 131.05 658.49 L 132.05 657.68 L 132.72 657.44 L 133.39 657.66 L 134.72 658.7 L 135.39 659.3 L 136.39 660.22 L 137.39 660.64 L 138.73 660.97 L 140.06 660.96 L 142.74 660.66 L 144.57 660.36 L 144.74 658.78 L 145.07 649.59 L 145.41 622.22 L 145.85 569.56 L 146.41 504.7 L 146.55 478.21 L 146.91 343.43 L 147.41 335.67 L 148.08 329.22 L 148.41 327.32 L 148.75 326.13 L 149.08 325.48 L 149.55 325.21 L 149.75 325.33 L 150.08 326.15 L 150.42 327.82 L 150.75 330.48 L 151.42 339.21 L 152.08 353.7 L 152.42 390.79 L 153.64 449.98 L 154.09 486.41 L 155.79 541.33 L 156.79 569.56 L 159.1 619.09 L 159.9 629.53 L 160.77 637.63 L 161.77 644.63 L 162.44 648.15 L 163.1 650.94 L 163.77 652.77 L 164.44 653.77 L 164.77 653.84 L 167.44 653.85 L 167.78 654.03 L 169.11 655.67 L 171.12 658.26 L 172.12 659.28 L 173.45 660.18 L 174.34 660.49 L 176.79 660.63 L 177.13 660.58 L 177.79 660.14 L 178.8 659.06 L 179.8 657.53 L 180.13 657.44 L 181.3 657.62 L 181.8 657.89 L 182.47 658.25 L 182.8 658.21 L 183.14 657.99 L 183.8 657.03 L 184.14 654.85 L 184.58 648.52 L 185.58 620.06 L 185.81 618.25 L 186.22 616.64 L 186.47 617.36 L 186.84 620.06 L 187.48 632.72 L 188.23 645.33 L 188.81 651.37 L 189.17 653.52 L 189.81 655.17 L 190.48 656.1 L 191.48 656.99 L 192.15 657.29 L 192.48 657.29 L 192.82 657.11 L 193.49 656.27 L 193.6 656.07 L 193.82 655.25 L 194.15 652.71 L 194.54 648.52 L 195.18 635.86 L 195.82 623.24 L 196.49 618.46 L 196.77 617.87 L 196.83 617.91 L 197.16 619.43 L 197.58 623.24 L 199.16 648.31 L 199.83 652.57 L 200.16 653.69 L 200.83 655.25 L 201.5 656.08 L 202.17 656.67 L 202.84 657 L 203.17 657.03 L 203.84 656.7 L 204.5 656.22 L 204.98 656.07 L 205.51 656.24 L 206.56 656.8 L 209.18 657.21 L 211.18 657.3 L 212.85 657.14 L 214.85 656.68 L 215.52 656.19 L 216.52 655.27 L 216.97 655.12 L 217.86 655.28 L 219.2 655.57 L 220.53 655.44 L 221.09 655.3 L 221.2 655.13 L 221.53 653.47 L 222.2 649.66 L 222.53 648.22 L 222.98 647.24 L 223.2 647.65 L 224.2 651.93 L 224.57 652.61 L 225.54 652.48 L 226.87 652.3 L 227.54 652.5 L 228.88 653.14 L 229.55 653.15 L 230.21 652.64 L 230.55 652.3 L 231.3 651.02 L 231.55 651.18 L 232.22 652.23 L 232.55 652.39 L 235.22 652.27 L 236.22 651.97 L 236.56 651.79 L 236.89 651.42 L 237.61 649.75 L 238.23 647.01 L 238.56 645.59 L 239.76 642.14 L 239.9 641.36 L 240.56 636.15 L 240.7 635.86 L 241.23 636.1 L 241.57 636.18 L 242.43 636.18 L 242.57 636.04 L 242.9 634.84 L 243.26 632.72 L 243.9 624.98 L 244.29 619.83 L 244.63 619.1 L 244.9 620.79 L 245.27 624.15 L 245.91 627.09 L 246.24 627.66 L 246.57 627.54 L 247.96 626.39 L 248.24 626.47 L 249.58 627.33 L 249.91 626.8 L 250.8 624.47 L 251.58 623.79 L 252.25 623.51 L 253.64 623.24 L 253.92 622.76 L 254.59 620.06 L 255.59 614.89 L 256.26 613.86 L 256.59 613.8 L 256.92 614.21 L 257.59 615.8 L 258.26 618.71 L 258.59 619.15 L 259.26 619.64 L 259.68 619.74 L 259.93 619.64 L 262.02 617.55 L 262.27 617.93 L 262.93 620.51 L 263.94 625.02 L 264.71 627.02 L 265.27 627.93 L 265.94 628.85 L 266.3 629.53 L 266.94 631.54 L 268.28 636.29 L 271.95 648.31 L 273.28 651.72 L 274.62 654.3 L 275.62 655.77 L 276.62 656.94 L 277.62 657.73 L 278.96 658.51 L 279.96 658.81 L 282.3 659.21 L 284.64 659.38 L 290.98 659.53 L 295.99 659.54 L 296.32 659.43 L 296.99 658.77 L 297.99 657.2 L 298.66 655.39 L 298.99 654.08 L 299.66 649.48 L 300 645.98 L 300.72 635.86 L 301.33 630.42 L 301.69 628.3 L 302.33 626.21 L 302.67 625.89 L 303.06 625.75 L 303.33 626.05 L 304 628.04 L 304.67 631.34 L 306.34 640.16 L 308.68 651.83 L 309.68 655.33 L 310.35 657.02 L 311.35 658.92 L 312.1 659.85 L 313.02 660.55 L 314.02 661.04 L 315.69 661.4 L 317.69 661.62 L 323.03 661.63 L 329.04 661.54 L 329.68 661.49 L 329.68 661.49" clip-path="url(#pd4dceb49d7)" filter="url(#bl2)" style="fill: none; stroke: #1f77b4; stroke-width: 1.5; stroke-linecap: square"/>
   </g>
   <g id="line2d_49">
    <path d="M 62.6 616.14 L 65.94 616.04 L 66.83 615.96 L 66.94 615.57 L 67.47 607.53 L 67.61 604.38 L 68.28 580.45 L 69.17 546.38 L 69.28 547.34 L 69.95 564.05 L 70.31 569.56 L 70.62 588.5 L 70.95 600.9 L 71.29 607.84 L 71.62 610.94 L 71.95 612.95 L 72.29 613.95 L 72.95 615.09 L 73.62 615.65 L 74.29 615.72 L 77.63 615.82 L 77.96 615.79 L 78.96 613.98 L 79.63 613.64 L 79.66 613.64 L 79.97 613.97 L 80.63 615.32 L 80.97 615.37 L 83.97 615.33 L 84.97 614.98 L 86.73 614.27 L 88.98 613.92 L 89.98 613.97 L 91.65 614.37 L 93.32 614.71 L 94.99 614.69 L 98.66 614.6 L 102.34 615.23 L 109.68 615.38 L 132.72 615.68 L 146.74 615.72 L 147.41 615.44 L 148.75 614.63 L 149.75 614.17 L 150.42 614.12 L 151.08 614.51 L 152.17 615.28 L 153.75 615.74 L 154.76 615.82 L 175.46 615.71 L 186.14 615.34 L 191.82 614.91 L 193.49 614.63 L 194.15 614.37 L 194.49 613.97 L 195.18 612.5 L 195.49 611.24 L 196.13 606.17 L 196.16 605.87 L 196.83 594.07 L 197.38 588.5 L 197.83 586.19 L 198.22 585.31 L 198.49 585.81 L 199.16 588.97 L 200.5 598.53 L 201.5 603.86 L 202.5 607.97 L 203.17 609.79 L 203.84 611.19 L 204.5 612.01 L 205.17 612.52 L 205.92 612.82 L 208.51 613.08 L 210.51 613.13 L 211.18 612.95 L 211.85 612.53 L 212.24 612.18 L 212.52 611.53 L 212.85 609.88 L 213.19 607.44 L 213.52 601.93 L 214.88 571.42 L 215.19 570.41 L 215.38 570.2 L 215.52 570.54 L 216.19 574.85 L 216.52 576.5 L 216.77 577.03 L 216.86 576.96 L 217.86 573.4 L 218.11 573.11 L 218.19 573.24 L 218.69 577.12 L 218.86 579.01 L 219.86 592.6 L 220.53 598.57 L 221.2 602.71 L 221.87 605.52 L 222.53 607.55 L 223.29 609.04 L 224.2 610.04 L 225.21 610.75 L 226.54 611.32 L 228.21 611.8 L 230.21 612.11 L 235.89 612.6 L 237.56 612.61 L 239.9 612.34 L 243.9 611.91 L 246.91 611.72 L 248.24 611.82 L 250.25 612 L 251.25 611.87 L 252.58 611.42 L 253.25 610.84 L 253.92 609.81 L 254.25 608.83 L 254.81 605.26 L 254.92 603.72 L 255.25 594.78 L 255.59 579.21 L 255.92 569.74 L 256.26 569.21 L 256.51 569.1 L 256.59 569.98 L 256.95 578.57 L 257.26 575.86 L 257.59 570.14 L 257.98 562.77 L 258.59 562.46 L 258.73 562.45 L 258.93 563.14 L 259.34 565.32 L 259.6 564.74 L 259.98 562.18 L 260.26 557.43 L 261.6 522.26 L 262.07 521.11 L 262.27 521.71 L 262.6 524.83 L 263.02 535 L 263.6 542.86 L 264.27 548.42 L 264.94 551.64 L 265.27 552.73 L 265.69 553.35 L 265.94 553.12 L 266.27 552.25 L 266.63 550.8 L 266.94 548.09 L 268.28 531.23 L 268.61 528.92 L 268.97 527.76 L 269.28 529.1 L 269.61 532.12 L 270.95 550.5 L 271.36 551.43 L 272.28 536.17 L 272.42 535.63 L 272.62 536.34 L 273.06 541.33 L 273.56 553.94 L 274.01 568.83 L 274.62 575.6 L 275.45 582.49 L 275.96 594.22 L 276.62 601.16 L 277.29 606.23 L 277.99 609.95 L 278.63 612.12 L 279.29 613.7 L 279.96 614.48 L 280.63 614.99 L 281.46 615.32 L 283.63 615.58 L 285.97 615.64 L 297.99 615.63 L 298.33 615.47 L 298.99 614.67 L 299.47 613.77 L 299.66 613.1 L 300.33 608.19 L 300.66 604.66 L 302 586.74 L 302.67 580.03 L 303.33 575.45 L 304 573 L 304.34 572.59 L 304.84 572.38 L 305 572.48 L 305.34 573.16 L 306 575.64 L 306.67 580.62 L 308.01 590.49 L 309.68 601.95 L 310.35 605.61 L 311.35 609.87 L 312.01 611.78 L 313.02 613.86 L 313.68 614.68 L 314.69 615.35 L 315.69 615.74 L 317.69 616.02 L 320.03 616.14 L 329.68 616.14 L 329.68 616.14" clip-path="url(#pd4dceb49d7)" filter="url(#bl2)" style="fill: none; stroke: #ff7f0e; stroke-width: 1.5; stroke-linecap: square"/>
   </g>
   <g id="line2d_50">
    <path d="M 62.6 570.7 L 66.28 570.59 L 67.14 570.51 L 67.28 570.25 L 67.61 568.08 L 67.95 565.06 L 68.61 557.32 L 68.95 555.88 L 69.17 555.53 L 69.28 555.7 L 69.81 558.99 L 70.95 567.95 L 71.29 568.96 L 71.62 569.47 L 72.29 569.99 L 72.95 570.3 L 73.62 570.38 L 82.3 570.27 L 84.64 569.77 L 86.64 569.43 L 89.98 569.28 L 92.32 569.4 L 100.67 570.01 L 104.67 570.07 L 174.79 570.24 L 178.13 570.15 L 181.47 569.85 L 182.47 569.59 L 183.14 569.19 L 183.8 568.12 L 185.14 565.52 L 185.19 565.32 L 185.47 562.86 L 185.83 557.13 L 186.47 542.24 L 186.81 539.02 L 187.17 538.46 L 187.62 541.33 L 187.81 543.82 L 188.48 554.28 L 189.01 560.27 L 189.48 563.36 L 190.01 565.32 L 190.48 565.89 L 192.82 567.59 L 193.6 567.83 L 193.82 567.75 L 194.15 567.37 L 194.54 566.55 L 194.82 563.79 L 195.49 549.96 L 196.44 528.07 L 196.83 525.18 L 196.96 524.89 L 197.16 525.15 L 197.58 526.8 L 197.83 528.63 L 198.49 537.04 L 199.16 548.42 L 199.91 557.13 L 200.5 561.11 L 201.17 563.81 L 201.83 565.52 L 202.5 566.3 L 203.17 566.8 L 203.84 567.07 L 205.17 567.17 L 208.84 567.24 L 213.19 567.16 L 214.52 566.46 L 218.86 566.57 L 221.87 566.89 L 222.2 566.65 L 222.53 566.21 L 222.98 565.32 L 223.2 564.14 L 224.37 553.03 L 224.54 552.7 L 224.87 552.39 L 225.21 553.69 L 225.87 559.1 L 226.26 562.18 L 226.87 564.4 L 227.21 565.07 L 227.54 565.18 L 228.21 565.01 L 229.21 564.53 L 230.21 563.46 L 230.88 562.87 L 231.22 562.77 L 231.55 562.84 L 232.22 563.29 L 234.89 565.59 L 235.22 565.64 L 235.56 565.43 L 236.92 563.73 L 238.23 563.37 L 238.56 562.79 L 239.9 559.19 L 240.68 557.76 L 241.23 557.26 L 242.26 556.49 L 242.9 555.88 L 243.46 554.9 L 243.57 554.32 L 244.24 545.72 L 244.9 535.92 L 245.24 532.9 L 245.68 531.85 L 245.91 532.27 L 246.32 534.22 L 247.58 542.44 L 247.91 543.4 L 248.27 543.83 L 248.58 543 L 249.24 539.23 L 249.69 537.23 L 249.91 537.59 L 250.58 540.61 L 251.42 545.38 L 251.92 546.43 L 252.25 546.7 L 252.58 546.2 L 253.33 544.15 L 253.92 543.64 L 254.92 543.08 L 255.59 542.8 L 255.92 542.47 L 256.26 541.07 L 257.37 534.09 L 257.59 533.74 L 258.01 533.45 L 258.26 533.96 L 258.93 537.41 L 259.6 541.74 L 259.93 542.38 L 260.6 543.13 L 260.93 543.24 L 261.6 543.05 L 262.27 542.53 L 262.6 541.39 L 263.16 539.09 L 263.6 538.15 L 263.94 537.87 L 264.27 538.47 L 264.94 541.05 L 265.69 545.11 L 266.27 546.83 L 266.94 548.29 L 267.94 549.82 L 268.61 550.97 L 269.28 552.78 L 270.95 557.59 L 272.28 560.89 L 273.62 563.58 L 274.62 565.14 L 275.79 566.55 L 276.96 567.56 L 278.32 568.46 L 279.96 569.32 L 280.96 569.63 L 283.3 570.07 L 285.3 570.24 L 291.65 570.38 L 296.32 570.26 L 296.99 570.16 L 297.66 569.79 L 299.33 568.37 L 300 567.44 L 300.33 566.67 L 301.05 563.41 L 302.67 552.52 L 303 551.66 L 303.67 550.75 L 304.2 550.48 L 304.34 550.5 L 304.67 550.72 L 305.48 551.75 L 306 552.84 L 307.34 556.78 L 309.68 564.02 L 310.68 566.38 L 311.35 567.68 L 311.79 568.15 L 312.35 568.4 L 312.74 568.46 L 313.02 568.33 L 313.68 567.83 L 314.35 569.76 L 315.35 570.17 L 316.36 570.35 L 319.03 570.43 L 329.38 570.51 L 329.68 570.51 L 329.68 570.51" clip-path="url(#pd4dceb49d7)" filter="url(#bl2)" style="fill: none; stroke: #2ca02c; stroke-width: 1.5; stroke-linecap: square"/>
   </g>
   <g id="line2d_51">
    <path d="M 62.6 525.02 L 66.94 524.92 L 67.47 524.89 L 67.61 524.64 L 68.28 520.08 L 68.95 515.85 L 69.37 514.46 L 69.62 515.05 L 70.95 522.63 L 71.29 523.34 L 71.95 523.15 L 72.29 522.94 L 73.29 520.79 L 73.62 521.37 L 74.43 523.93 L 75.29 524.66 L 75.99 524.89 L 80.3 524.77 L 84.31 524.47 L 86.31 523.94 L 87.98 523.56 L 89.31 523.52 L 94.32 523.63 L 96.83 523.93 L 96.99 523.84 L 97.77 522.7 L 98.33 522.43 L 98.66 522.39 L 99 522.72 L 99.33 523.23 L 99.69 523.52 L 101.67 523.61 L 103.14 524.25 L 110.68 524.14 L 111.68 524.07 L 113.02 523.75 L 113.69 523.98 L 114.52 524.25 L 123.37 524.14 L 129.38 523.91 L 131.05 523.73 L 131.72 523.42 L 134.06 521.88 L 134.75 521.61 L 136.06 521.43 L 136.73 521.57 L 137.73 522 L 138.73 522.8 L 139.4 523.31 L 140.4 523.64 L 141.73 523.91 L 143.4 523.92 L 146.63 523.75 L 147.08 523.6 L 147.41 523.32 L 147.74 522.84 L 148.08 519.11 L 148.22 516.05 L 148.86 478.21 L 149.75 362.65 L 150.08 342.21 L 150.75 335.98 L 151.42 331.45 L 152.08 328.37 L 152.75 326.47 L 153.42 325.5 L 153.75 325.29 L 154.14 325.21 L 154.42 325.34 L 154.76 325.82 L 155.09 326.68 L 155.76 329.64 L 156.43 334.39 L 157.09 341.11 L 157.76 349.96 L 158.46 361.64 L 159.1 396.29 L 160.6 437.23 L 161.54 456.36 L 162.49 472.07 L 163.1 477.77 L 166.11 501.52 L 167.14 506.58 L 168.11 510.11 L 168.78 511.89 L 169.78 513.84 L 172.79 518.63 L 173.79 519.93 L 175.12 521.25 L 176.24 522.06 L 178.13 523.05 L 178.8 523.16 L 180.66 523.02 L 180.8 522.98 L 181.47 522.35 L 182.47 521.22 L 183.14 520.63 L 183.8 520.44 L 185.47 520.32 L 185.81 520.11 L 186.14 519.7 L 186.67 518.6 L 186.81 517.97 L 187.28 512.91 L 187.48 509.05 L 188.14 492 L 188.56 484.5 L 188.95 481.95 L 189.15 482.65 L 189.62 487.64 L 189.81 490.67 L 190.48 503.82 L 191.15 511.7 L 191.48 514.02 L 192.15 517.06 L 192.65 518.28 L 193.49 519.23 L 194.15 519.67 L 194.54 519.74 L 194.82 519.68 L 195.16 519.46 L 195.82 518.56 L 196.16 517.9 L 196.49 516.05 L 197.16 508.5 L 198.16 487.89 L 198.66 481.31 L 198.83 480.3 L 199.25 478.9 L 199.5 479.72 L 199.91 483.22 L 200.55 493.97 L 201.5 507.22 L 202.17 512.52 L 202.75 515.42 L 203.5 517.4 L 204.17 518.46 L 204.84 518.94 L 205.51 519.19 L 205.84 519.13 L 207.18 518.1 L 207.51 518.2 L 209.18 519.25 L 210.85 519.68 L 212.18 519.73 L 214.85 519.55 L 216.52 519.26 L 217.61 518.92 L 218.19 518.44 L 218.86 517.77 L 219.2 517.65 L 220.2 517.81 L 221.7 518.1 L 222.53 518.02 L 223.62 517.65 L 223.87 517.27 L 224.57 514.78 L 225.21 511.56 L 225.68 510.68 L 225.87 510.95 L 226.54 513.11 L 227.21 514.57 L 227.54 514.69 L 230.21 514.74 L 231.88 515.55 L 232.22 515.35 L 233.02 514.19 L 233.8 512.78 L 233.89 512.81 L 234.89 514.48 L 236.22 514.68 L 236.59 514.69 L 236.89 514.58 L 237.56 513.79 L 238.56 512.03 L 239.56 509.41 L 240.56 506.41 L 241.23 503.94 L 242.23 498.69 L 242.65 496.47 L 243.23 496.66 L 243.68 496.79 L 243.9 496.71 L 244.24 496.32 L 244.63 495.52 L 244.9 493.45 L 245.91 482.18 L 246.24 480.93 L 246.43 480.67 L 246.57 480.98 L 247.24 485.96 L 247.71 489.55 L 248.91 489.64 L 249.58 489.7 L 249.91 489.95 L 250.91 491.07 L 251.05 491.1 L 251.25 490.97 L 251.92 489.42 L 252.36 488.6 L 253.25 488.03 L 253.92 487.97 L 255.25 488.14 L 255.59 487.64 L 256.26 485.48 L 257.26 481.2 L 257.59 480.21 L 258.06 479.49 L 258.26 479.55 L 258.59 479.89 L 258.98 480.49 L 259.26 481.26 L 259.98 483.86 L 260.6 484.91 L 260.93 485.3 L 261.26 485.45 L 261.93 485.29 L 262.93 484.75 L 263.6 484.22 L 263.94 484.25 L 264.27 484.73 L 264.71 485.77 L 264.94 486.62 L 265.94 491.78 L 266.94 494.82 L 267.94 497.23 L 268.83 499.02 L 269.28 500.75 L 270.28 505.52 L 271.95 511.9 L 273.28 516.25 L 274.2 518.6 L 274.95 520 L 275.79 521.11 L 276.62 521.83 L 277.29 522.24 L 278.29 522.53 L 280.3 522.83 L 284.64 523.15 L 290.98 523.16 L 300 523.07 L 300.33 522.65 L 300.72 521.75 L 301 518.97 L 302.33 498.24 L 302.67 495.76 L 303.33 493.69 L 303.67 493.25 L 304.34 492.76 L 304.67 492.69 L 305 492.83 L 305.78 493.7 L 306 494.07 L 306.67 495.88 L 307.34 498.38 L 310.68 514.71 L 311.46 517.97 L 312.35 520.8 L 313.04 522.38 L 314.02 523.76 L 314.69 524.28 L 316.02 524.77 L 317.02 524.89 L 326.37 525.02 L 329.68 525.02 L 329.68 525.02" clip-path="url(#pd4dceb49d7)" filter="url(#bl2)" style="fill: none; stroke: #d62728; stroke-width: 1.5; stroke-linecap: square"/>
   </g>
   <g id="patch_13">
    <path d="M 49.25 684.94 L 49.25 388.96" style="fill: none; stroke: #000000; stroke-width: 0.8; stroke-linejoin: miter; stroke-linecap: square"/>
   </g>
   <g id="patch_14">
    <path d="M 343.07 684.94 L 343.07 388.96" style="fill: none; stroke: #000000; stroke-width: 0.8; stroke-linejoin: miter; stroke-linecap: square"/>
   </g>
   <g id="patch_15">
    <path d="M 49.25 684.94 L 343.07 684.94" style="fill: none; stroke: #000000; stroke-width: 0.8; stroke-linejoin: miter; stroke-linecap: square"/>
   </g>
   <g id="patch_16">
    <path d="M 49.25 388.96 L 343.07 388.96" style="fill: none; stroke: #000000; stroke-width: 0.8; stroke-linejoin: miter; stroke-linecap: square"/>
   </g>
   <g id="ha1C">
    <text class="ha1" x="174.112" y="466.588" font-size="10" text-anchor="start" letter-spacing="0.122">HA1 peaks</text>
   </g>
   <g id="text_50">
    <text class="letter" x="12.518" y="384.183" font-size="20" text-anchor="start" font-weight="700">C</text>
   </g>
   <g id="text_51">
    <text class="title" x="195.891" y="383.574" font-size="12" text-anchor="middle" letter-spacing="0.076">Random Samples - Co-elution</text>
   </g>
  </g>
  <g id="axes_4">
   <g id="patch_17">
    <path d="M 408.7 684.94 L 702.52 684.94 L 702.52 388.96 L 408.7 388.96 z" style="fill: #ffffff"/>
   </g>
   <g id="matplotlib.axis_7">
    <g id="xtick_19">
     <g id="line2d_52">
      <g>
       <use href="#m1504cfccaf" x="422.055838" y="684.944162" style="stroke: #000000; stroke-width: 0.8"/>
      </g>
     </g>
     <g id="text_52">
      <text class="xtick" x="422.056" y="700.548" font-size="10" text-anchor="middle">0</text>
     </g>
    </g>
    <g id="xtick_20">
     <g id="line2d_53">
      <g>
       <use href="#m1504cfccaf" x="477.703046" y="684.944162" style="stroke: #000000; stroke-width: 0.8"/>
      </g>
     </g>
     <g id="text_53">
      <text class="xtick" x="477.566" y="700.548" font-size="10" text-anchor="middle" letter-spacing="-0.274">2000</text>
     </g>
    </g>
    <g id="xtick_21">
     <g id="line2d_54">
      <g>
       <use href="#m1504cfccaf" x="533.350254" y="684.944162" style="stroke: #000000; stroke-width: 0.8"/>
      </g>
     </g>
     <g id="text_54">
      <text class="xtick" x="533.213" y="700.548" font-size="10" text-anchor="middle" letter-spacing="-0.274">4000</text>
     </g>
    </g>
    <g id="xtick_22">
     <g id="line2d_55">
      <g>
       <use href="#m1504cfccaf" x="588.997462" y="684.944162" style="stroke: #000000; stroke-width: 0.8"/>
      </g>
     </g>
     <g id="text_55">
      <text class="xtick" x="588.860" y="700.548" font-size="10" text-anchor="middle" letter-spacing="-0.274">6000</text>
     </g>
    </g>
    <g id="xtick_23">
     <g id="line2d_56">
      <g>
       <use href="#m1504cfccaf" x="644.64467" y="684.944162" style="stroke: #000000; stroke-width: 0.8"/>
      </g>
     </g>
     <g id="text_56">
      <text class="xtick" x="644.508" y="700.548" font-size="10" text-anchor="middle" letter-spacing="-0.274">8000</text>
     </g>
    </g>
    <g id="xtick_24">
     <g id="line2d_57">
      <g>
       <use href="#m1504cfccaf" x="700.291878" y="684.944162" style="stroke: #000000; stroke-width: 0.8"/>
      </g>
     </g>
     <g id="text_57">
      <text class="xtick" x="700.155" y="700.548" font-size="10" text-anchor="middle" letter-spacing="-0.274">10000</text>
     </g>
    </g>
    <g id="text_58">
     <text class="xlabel" x="555.206" y="714.317" font-size="10" text-anchor="middle" letter-spacing="0.046">Time Index</text>
    </g>
   </g>
   <g id="matplotlib.axis_8">
    <g id="ytick_22">
     <g id="line2d_58">
      <g>
       <use href="#m5d545ce8f8" x="408.700508" y="662.176494" style="stroke: #000000; stroke-width: 0.8"/>
      </g>
     </g>
     <g id="text_59">
      <text class="ytick" x="401.244" y="666.585" font-size="10" text-anchor="end">0</text>
     </g>
    </g>
    <g id="ytick_23">
     <g id="line2d_59">
      <g>
       <use href="#m5d545ce8f8" x="408.700508" y="616.641156" style="stroke: #000000; stroke-width: 0.8"/>
      </g>
     </g>
     <g id="text_60">
      <text class="ytick" x="401.244" y="621.050" font-size="10" text-anchor="end">1</text>
     </g>
    </g>
    <g id="ytick_24">
     <g id="line2d_60">
      <g>
       <use href="#m5d545ce8f8" x="408.700508" y="571.105818" style="stroke: #000000; stroke-width: 0.8"/>
      </g>
     </g>
     <g id="text_61">
      <text class="ytick" x="401.244" y="575.514" font-size="10" text-anchor="end">2</text>
     </g>
    </g>
    <g id="ytick_25">
     <g id="line2d_61">
      <g>
       <use href="#m5d545ce8f8" x="408.700508" y="525.57048" style="stroke: #000000; stroke-width: 0.8"/>
      </g>
     </g>
     <g id="text_62">
      <text class="ytick" x="401.244" y="529.979" font-size="10" text-anchor="end">3</text>
     </g>
    </g>
    <g id="ytick_26">
     <g id="line2d_62">
      <g>
       <use href="#m5d545ce8f8" x="408.700508" y="480.035143" style="stroke: #000000; stroke-width: 0.8"/>
      </g>
     </g>
     <g id="text_63">
      <text class="ytick" x="401.244" y="484.443" font-size="10" text-anchor="end">4</text>
     </g>
    </g>
    <g id="ytick_27">
     <g id="line2d_63">
      <g>
       <use href="#m5d545ce8f8" x="408.700508" y="434.499805" style="stroke: #000000; stroke-width: 0.8"/>
      </g>
     </g>
     <g id="text_64">
      <text class="ytick" x="401.244" y="438.908" font-size="10" text-anchor="end">5</text>
     </g>
    </g>
    <g id="ytick_28">
     <g id="line2d_64">
      <g>
       <use href="#m5d545ce8f8" x="408.700508" y="388.964467" style="stroke: #000000; stroke-width: 0.8"/>
      </g>
     </g>
     <g id="text_65">
      <text class="ytick" x="401.244" y="393.373" font-size="10" text-anchor="end">6</text>
     </g>
    </g>
    <g id="text_66">
     <text class="ylabel" x="388.619" y="539.086" font-size="10" text-anchor="middle" transform="rotate(-90 388.619 539.086)">Intensity</text>
    </g>
   </g>
   <g id="line2d_65">
    <path d="M 422.06 661.77 L 481.49 661.66 L 486.16 661.53 L 486.5 661 L 486.88 659.85 L 487.5 650.64 L 487.83 648.23 L 488 647.83 L 488.16 648.25 L 488.83 653.33 L 489.39 657.94 L 489.83 659.19 L 490.17 659.84 L 490.67 660.36 L 491.84 660.77 L 493.17 660.98 L 497.51 660.99 L 528.9 660.87 L 532.91 660.86 L 534.91 661.18 L 538.25 661.77 L 540.25 661.81 L 613.7 661.76 L 614.71 661.3 L 615.71 660.86 L 616.38 660.83 L 617.38 661.05 L 619.38 661.57 L 620.38 661.55 L 623.05 661.18 L 624.72 661.09 L 626.39 661.34 L 628.73 661.71 L 630.4 661.68 L 634.07 661.57 L 665.46 661.32 L 666.6 660.63 L 667.13 660.07 L 669.13 657.01 L 669.46 656.28 L 669.8 655.28 L 670.16 653.52 L 670.63 647.38 L 670.97 635.54 L 671.8 594.64 L 672.13 586.32 L 673.3 566.55 L 673.47 564.68 L 673.8 562.45 L 674.19 571.11 L 674.89 602.34 L 675.47 618.61 L 676.14 626.96 L 677.14 636.53 L 678.14 644.68 L 678.81 648.15 L 679.48 650.85 L 680.48 653.77 L 681.48 655.88 L 682.48 657.42 L 683.49 658.63 L 684.49 659.49 L 685.82 660.32 L 687.49 661.03 L 689.13 661.49 L 689.13 661.49" clip-path="url(#pfc94fbe1b5)" filter="url(#bl3)" style="fill: none; stroke: #1f77b4; stroke-width: 1.5; stroke-linecap: square"/>
   </g>
   <g id="line2d_66">
    <path d="M 422.06 614.09 L 422.47 613.91 L 422.72 614.51 L 423.17 615.96 L 428.07 615.91 L 429.74 615.55 L 431.07 615.69 L 433.19 615.96 L 474.56 615.96 L 474.81 615.69 L 475.31 613.77 L 475.48 611.54 L 476.14 598.33 L 476.48 594.66 L 476.9 593.55 L 477.15 594.34 L 477.48 596.91 L 478.15 607.22 L 478.82 611.93 L 479.15 612.9 L 479.82 614.06 L 480.23 614.36 L 481.82 614.73 L 483.49 614.9 L 488.5 614.96 L 503.19 614.98 L 523.89 614.76 L 529.9 615.25 L 540.58 616.05 L 584.99 615.94 L 614.37 615.29 L 616.46 615 L 619.05 615.12 L 621.72 615.23 L 622.39 615.09 L 626.39 613.64 L 627.06 613.85 L 629.4 615.09 L 630.4 615.46 L 631.4 615.55 L 638.75 615.4 L 645.09 615.38 L 665.12 615.44 L 666.46 615.29 L 667.13 614.88 L 667.54 614.46 L 667.79 613.86 L 668.46 610.68 L 669.13 606.91 L 669.46 606.37 L 670.63 606.26 L 670.8 605.63 L 671.13 601.92 L 671.47 591.96 L 671.8 578.66 L 672.47 521.74 L 673.14 487.82 L 673.8 464.46 L 674.56 448.16 L 675.14 440.73 L 675.25 440.42 L 675.47 452.71 L 675.58 487.32 L 675.81 498.99 L 676.47 516.55 L 677.48 547.72 L 678.14 560.86 L 678.81 569.3 L 679.87 578.66 L 680.48 587.43 L 681.15 593.7 L 681.98 598.56 L 682.82 602.07 L 683.82 605.19 L 684.82 607.54 L 685.82 609.35 L 687.49 611.84 L 689.13 613.91 L 689.13 613.91" clip-path="url(#pfc94fbe1b5)" filter="url(#bl3)" style="fill: none; stroke: #ff7f0e; stroke-width: 1.5; stroke-linecap: square"/>
   </g>
   <g id="line2d_67">
    <path d="M 422.06 570.7 L 466.13 570.59 L 485.3 570.38 L 485.49 570.19 L 485.83 569.15 L 486.16 567.44 L 486.83 559 L 487.19 556.81 L 487.64 556.49 L 487.83 557.21 L 489.17 567.06 L 489.72 568.46 L 490.5 569.07 L 491.17 569.36 L 492.17 569.43 L 506.19 569.66 L 525.56 569.74 L 528.9 569.65 L 532.24 569.47 L 534.24 569.65 L 539.08 570.24 L 561.62 570.4 L 593 570.39 L 611.37 570.21 L 612.7 569.92 L 615.04 569.29 L 616.04 569.26 L 617.04 569.51 L 619.05 570.18 L 620.05 570.23 L 622.05 569.98 L 624.06 569.75 L 625.39 569.8 L 628.06 570.21 L 629.9 570.38 L 664.46 570.07 L 665.46 569.58 L 666.12 569.06 L 667.13 567.75 L 668.13 566.16 L 669.13 564.14 L 669.46 562.96 L 669.91 558.36 L 670.24 548.88 L 670.85 520.47 L 671.47 503.43 L 672.13 493.48 L 672.75 487.32 L 672.8 486.11 L 673.3 471.25 L 673.5 477.76 L 673.8 491.64 L 674.81 523.93 L 675.47 536.14 L 676.14 542.84 L 676.81 547.57 L 677.81 552.88 L 678.92 557.45 L 680.15 561.38 L 681.15 563.84 L 682.15 565.87 L 682.82 566.93 L 683.82 568 L 684.82 568.8 L 686.02 569.47 L 687.83 570.16 L 689.13 570.42 L 689.13 570.42" clip-path="url(#pfc94fbe1b5)" filter="url(#bl3)" style="fill: none; stroke: #2ca02c; stroke-width: 1.5; stroke-linecap: square"/>
   </g>
   <g id="line2d_68">
    <path d="M 422.06 524.86 L 422.22 524.77 L 422.39 525 L 422.89 524.67 L 423.06 525.09 L 423.22 525.05 L 423.39 525.13 L 423.56 524.92 L 423.73 525.14 L 424.06 524.81 L 424.23 525.01 L 424.39 524.79 L 424.56 524.84 L 424.73 525.15 L 424.89 524.86 L 425.06 525.02 L 425.23 524.93 L 425.39 525.01 L 425.56 524.78 L 425.9 525.07 L 426.23 524.73 L 426.4 524.99 L 426.56 525.04 L 426.73 524.95 L 426.9 524.65 L 427.06 524.63 L 427.23 524.79 L 427.4 524.67 L 427.56 524.7 L 427.9 525.11 L 428.07 524.8 L 428.73 524.94 L 428.9 524.9 L 429.23 525 L 429.4 524.91 L 429.57 524.69 L 430.07 525.01 L 430.24 524.91 L 430.57 525.05 L 430.74 524.88 L 430.9 525.11 L 431.07 524.9 L 431.24 524.96 L 431.57 524.75 L 433.24 525.03 L 433.41 524.63 L 433.57 525.03 L 433.74 524.78 L 434.41 524.83 L 434.58 525.12 L 435.41 525.09 L 435.58 524.86 L 435.75 525.06 L 435.91 524.64 L 436.25 524.86 L 436.41 524.77 L 436.58 525.02 L 436.75 524.65 L 437.25 524.9 L 437.41 524.7 L 437.75 524.8 L 437.92 524.66 L 438.25 524.96 L 438.42 524.86 L 438.58 525.05 L 438.75 525.05 L 438.92 524.76 L 439.42 524.69 L 439.75 525.11 L 440.09 524.65 L 441.09 525.12 L 441.25 524.67 L 441.59 525.08 L 441.75 524.93 L 441.92 525.13 L 442.09 525.04 L 442.26 524.76 L 442.59 524.9 L 442.76 525.01 L 443.09 524.63 L 443.42 525.12 L 443.76 525.11 L 443.93 524.63 L 444.09 524.86 L 444.26 524.7 L 444.43 525.06 L 444.59 525.01 L 444.93 524.67 L 445.26 525.12 L 445.43 524.68 L 445.59 525 L 445.76 524.75 L 445.93 525.07 L 446.26 524.7 L 446.43 524.76 L 446.6 524.96 L 446.76 524.76 L 446.93 525.08 L 447.43 524.68 L 447.6 525.07 L 447.76 524.67 L 447.93 524.72 L 448.1 524.62 L 448.43 525.04 L 448.6 525.02 L 448.77 524.7 L 448.93 524.63 L 449.43 525 L 449.6 524.7 L 449.77 524.68 L 449.94 525.1 L 450.1 525.04 L 450.27 524.7 L 450.44 524.69 L 450.6 524.98 L 450.94 524.92 L 451.1 524.86 L 451.27 525.1 L 451.44 524.69 L 451.6 524.86 L 451.77 524.73 L 451.94 525.03 L 452.11 524.62 L 452.44 524.96 L 452.61 524.63 L 452.77 524.77 L 452.94 524.69 L 453.11 525.13 L 453.27 525.12 L 453.44 524.74 L 453.61 524.98 L 453.77 524.87 L 453.94 525.06 L 454.11 524.62 L 454.28 524.87 L 454.44 524.7 L 454.61 525.11 L 454.78 524.89 L 454.94 525.11 L 455.11 524.67 L 455.44 525.11 L 455.61 525.11 L 455.78 524.85 L 455.94 525.11 L 456.78 524.81 L 456.95 524.94 L 457.11 524.81 L 457.28 525.06 L 457.45 525 L 457.61 524.71 L 457.78 525.06 L 458.28 524.88 L 458.45 525.14 L 458.62 525.13 L 458.78 524.89 L 458.95 525.05 L 459.12 524.77 L 459.28 524.71 L 459.45 524.83 L 459.62 524.76 L 459.95 525.12 L 460.12 524.9 L 460.29 524.94 L 460.45 524.82 L 460.62 525.07 L 460.79 525.02 L 460.95 524.7 L 461.12 525 L 461.29 524.92 L 461.45 524.63 L 461.62 524.99 L 461.79 525.06 L 461.95 524.76 L 462.29 524.8 L 462.46 525.12 L 462.62 524.91 L 462.79 525.14 L 463.12 524.75 L 463.29 525.1 L 463.46 524.98 L 463.62 524.6 L 463.79 524.61 L 463.96 524.87 L 464.13 524.73 L 464.46 524.88 L 464.63 524.67 L 464.79 525.04 L 464.96 524.68 L 465.13 525.11 L 465.29 524.66 L 465.63 524.89 L 465.79 524.77 L 465.96 524.88 L 466.13 524.71 L 466.3 525.07 L 466.63 524.65 L 466.8 524.62 L 466.96 525.01 L 467.13 524.99 L 467.3 524.64 L 467.63 525.1 L 467.8 524.74 L 467.96 524.9 L 468.13 524.73 L 468.3 524.87 L 468.63 524.9 L 468.8 524.97 L 468.97 524.63 L 469.13 524.76 L 469.47 524.64 L 469.63 524.99 L 469.8 524.62 L 469.97 524.65 L 470.14 524.85 L 470.3 524.81 L 470.47 525.06 L 470.64 524.71 L 470.8 525.03 L 470.97 524.83 L 471.14 525.05 L 471.3 525.08 L 471.47 524.79 L 471.64 524.85 L 472.14 524.58 L 472.31 525.07 L 472.47 524.77 L 473.14 524.81 L 473.31 524.64 L 473.47 524.87 L 473.81 524.74 L 473.97 525.07 L 474.14 524.88 L 474.31 525.06 L 474.98 524.99 L 475.31 524.8 L 475.48 524.66 L 475.64 524.84 L 475.81 524.62 L 475.98 524.89 L 476.14 524.7 L 476.31 524.81 L 476.48 524.77 L 476.65 524.96 L 476.81 524.59 L 476.98 524.69 L 477.15 525.03 L 477.48 524.56 L 477.65 525.08 L 477.98 524.7 L 478.15 525.08 L 478.32 524.69 L 478.48 524.79 L 478.65 524.7 L 478.82 524.8 L 478.98 524.59 L 479.15 524.91 L 479.32 524.78 L 479.48 525.07 L 479.65 524.79 L 479.82 524.87 L 479.98 524.56 L 480.15 524.58 L 480.32 525.02 L 480.65 525.03 L 480.82 524.99 L 480.99 524.7 L 481.32 524.8 L 481.49 524.84 L 481.65 525.09 L 481.99 524.54 L 482.32 524.78 L 482.49 524.98 L 482.66 524.58 L 482.82 524.85 L 482.99 524.75 L 483.16 524.97 L 483.66 524.87 L 483.82 525.07 L 483.99 524.72 L 484.16 524.99 L 484.33 524.75 L 484.66 524.7 L 484.83 524.92 L 484.99 524.92 L 485.16 524.66 L 485.49 524.99 L 485.66 524.58 L 485.83 525.07 L 485.99 524.59 L 486.16 524.91 L 486.33 524.86 L 486.5 524.54 L 486.66 524.83 L 486.83 524.68 L 487 524.85 L 487.16 524.57 L 487.19 524.68 L 487.33 524.69 L 487.5 524.49 L 488.16 520.94 L 488.67 516.79 L 489 515.48 L 489.28 514.71 L 489.33 515.03 L 489.5 515.27 L 489.83 516.83 L 490.17 518.91 L 490.67 521.83 L 491.34 523.35 L 491.67 523.32 L 491.92 524.01 L 492 523.65 L 492.17 523.93 L 492.34 523.92 L 492.51 524.22 L 492.67 524.21 L 492.84 523.98 L 493.01 524.08 L 493.34 523.97 L 493.51 524.34 L 493.67 524.22 L 494.01 524.34 L 494.17 524.42 L 494.34 524.11 L 494.68 524.58 L 494.84 524.13 L 495.01 524.17 L 495.34 524.65 L 495.51 524.22 L 495.68 524.15 L 496.18 524.45 L 496.34 524.25 L 496.51 524.6 L 496.68 524.23 L 497.01 524.62 L 497.18 524.21 L 497.51 524.6 L 497.68 524.56 L 497.85 524.19 L 498.01 524.56 L 498.18 524.23 L 498.35 524.21 L 498.52 524.61 L 498.85 524.22 L 499.02 524.38 L 499.18 524.18 L 499.35 524.44 L 499.52 524.31 L 499.68 524.53 L 499.85 524.19 L 500.02 524.19 L 500.35 524.47 L 500.52 524.45 L 500.69 524.32 L 500.85 524.57 L 501.02 524.36 L 501.19 524.48 L 501.52 524.46 L 501.69 524.18 L 501.85 524.54 L 502.19 524.55 L 502.35 524.63 L 502.69 524.17 L 502.86 524.14 L 503.02 524.36 L 503.19 524.4 L 503.36 524.15 L 503.52 524.34 L 503.86 524.27 L 504.02 524.58 L 504.19 524.16 L 504.36 524.56 L 504.69 524.11 L 505.03 524.43 L 505.36 524.12 L 505.69 524.58 L 505.86 524.13 L 506.03 524.6 L 506.36 524.11 L 506.53 524.52 L 506.86 524.22 L 507.03 524.5 L 507.2 524.47 L 507.36 524.56 L 507.86 524.43 L 508.03 524.18 L 508.53 524.23 L 508.7 524.15 L 508.87 524.5 L 509.03 524.28 L 509.2 524.57 L 509.53 524.12 L 509.87 524.42 L 510.2 524.36 L 510.37 524.07 L 510.53 524.04 L 510.7 524.16 L 510.87 524.03 L 511.04 524.15 L 511.2 524.41 L 511.87 524.19 L 512.2 524.48 L 512.37 524.03 L 512.54 524.43 L 512.71 524.02 L 512.87 524.48 L 513.04 524.01 L 513.21 524.34 L 513.37 524.1 L 513.54 524.54 L 513.71 524.3 L 513.87 524.41 L 514.04 524.16 L 514.54 524.15 L 514.71 524 L 514.88 524.48 L 515.21 524.16 L 515.38 524.19 L 515.54 524.39 L 515.71 524.05 L 515.88 524.39 L 516.04 524.06 L 516.38 524.45 L 516.54 524.07 L 516.71 524.48 L 516.88 524.09 L 517.05 524.19 L 517.21 524.04 L 517.38 524.08 L 517.71 524.44 L 517.88 524.37 L 518.05 524.51 L 518.21 524.15 L 518.38 524.46 L 518.88 524.28 L 519.05 524.13 L 519.22 524.26 L 519.38 524.23 L 519.55 524.45 L 519.72 524.32 L 519.88 524.39 L 520.05 524.1 L 520.22 524.49 L 520.38 524.16 L 520.55 524.11 L 520.72 524.22 L 520.89 524.47 L 521.22 524.36 L 521.55 524.35 L 521.72 523.96 L 521.89 524.06 L 522.05 524 L 522.39 524.3 L 522.55 523.97 L 522.89 524.38 L 523.06 524.09 L 523.22 524.34 L 523.39 524.03 L 523.56 524.08 L 523.72 524.32 L 524.22 524.12 L 524.72 524.3 L 524.89 524.1 L 525.06 524.23 L 525.23 524.09 L 525.39 524.11 L 525.73 524.42 L 525.89 524.11 L 526.06 524.28 L 526.23 524.17 L 526.39 524.41 L 526.56 524.4 L 526.9 524.11 L 526.92 524.41 L 527.06 524.05 L 527.23 524.01 L 527.4 524.11 L 527.56 524.07 L 527.9 524.42 L 528.06 524.3 L 528.23 524.41 L 528.56 524.06 L 528.73 524.33 L 528.9 524.01 L 529.23 524.39 L 529.4 524.13 L 529.73 524.31 L 529.9 524.2 L 530.07 523.95 L 530.4 524.33 L 530.57 523.98 L 530.73 524.39 L 530.9 524.27 L 531.07 524.29 L 531.24 523.96 L 531.4 524.5 L 531.57 524.14 L 531.9 524.42 L 532.24 524.06 L 532.4 524.09 L 532.57 524.47 L 532.74 524.08 L 532.91 524.32 L 533.07 524.05 L 533.41 524.48 L 533.57 524.11 L 533.91 524.28 L 534.07 524.18 L 534.41 524.51 L 534.57 524.03 L 534.74 524.38 L 534.91 524.39 L 535.08 524.51 L 535.41 524.05 L 535.58 524.29 L 535.74 524.11 L 535.91 524.37 L 536.58 524.26 L 536.91 524.53 L 537.08 524.19 L 537.25 524.4 L 537.41 524.36 L 537.75 524.55 L 537.91 524.23 L 538.08 524.36 L 538.25 524.08 L 538.41 524.58 L 538.58 524.14 L 538.75 524.59 L 538.91 524.51 L 539.08 524.6 L 539.25 524.33 L 539.58 524.44 L 539.75 524.08 L 539.92 524.3 L 540.08 524.12 L 540.25 524.14 L 540.42 524.44 L 540.58 524.27 L 540.75 524.53 L 541.25 524.33 L 541.42 524.6 L 541.59 524.61 L 541.75 524.23 L 542.09 524.31 L 542.25 524.54 L 542.42 524.24 L 542.92 524.59 L 543.26 524.15 L 543.59 524.53 L 543.76 524.3 L 543.92 524.58 L 544.09 524.35 L 544.42 524.69 L 544.59 524.43 L 544.76 524.43 L 544.92 524.22 L 545.26 524.56 L 545.43 524.37 L 545.59 524.59 L 545.76 524.37 L 546.09 524.4 L 546.26 524.65 L 546.43 524.36 L 546.59 524.45 L 546.76 524.35 L 546.93 524.73 L 547.26 524.24 L 547.6 524.69 L 547.76 524.27 L 548.1 524.62 L 548.43 524.31 L 548.6 524.73 L 548.76 524.48 L 548.93 524.45 L 549.1 524.29 L 549.27 524.78 L 549.6 524.4 L 549.77 524.45 L 549.93 524.34 L 550.27 524.47 L 550.43 524.49 L 550.6 524.73 L 550.77 524.36 L 551.1 524.82 L 551.27 524.38 L 551.6 524.48 L 551.77 524.81 L 551.94 524.46 L 552.1 524.66 L 552.27 524.4 L 552.44 524.77 L 552.6 524.67 L 552.94 524.85 L 553.27 524.48 L 553.61 524.71 L 553.77 524.36 L 553.94 524.48 L 554.11 524.34 L 554.27 524.71 L 554.44 524.77 L 554.61 524.35 L 554.77 524.84 L 554.94 524.46 L 555.11 524.37 L 555.61 524.69 L 555.94 524.86 L 556.28 524.63 L 556.44 524.77 L 556.61 524.38 L 556.78 524.36 L 556.94 524.75 L 557.28 524.43 L 557.61 524.72 L 557.78 524.45 L 557.95 524.63 L 558.28 524.51 L 558.45 524.76 L 558.61 524.55 L 558.78 524.78 L 558.95 524.57 L 559.11 524.79 L 559.28 524.49 L 559.45 524.74 L 559.62 524.4 L 559.78 524.83 L 560.12 524.46 L 560.28 524.45 L 560.45 524.65 L 560.62 524.63 L 560.78 524.77 L 560.95 524.46 L 561.12 524.52 L 561.29 524.66 L 561.45 524.43 L 561.95 524.88 L 562.12 524.52 L 562.29 524.65 L 562.62 524.7 L 562.79 524.92 L 562.95 524.5 L 563.12 524.73 L 563.46 524.7 L 563.62 524.86 L 563.79 524.41 L 563.96 524.41 L 564.12 524.93 L 564.29 524.91 L 564.62 524.4 L 564.79 524.68 L 564.96 524.43 L 565.12 524.75 L 565.63 524.58 L 565.79 524.77 L 566.13 524.6 L 566.46 524.83 L 566.63 524.82 L 566.79 524.54 L 566.96 524.83 L 567.3 524.79 L 567.46 524.4 L 567.63 524.4 L 567.96 524.82 L 568.3 524.46 L 568.46 524.63 L 568.63 524.45 L 569.13 524.46 L 569.47 524.85 L 569.8 524.4 L 570.13 524.81 L 570.3 524.44 L 570.63 524.44 L 570.8 524.58 L 570.97 524.43 L 571.13 524.82 L 571.64 524.4 L 572.47 524.83 L 572.64 524.46 L 572.97 524.75 L 573.47 524.85 L 573.64 524.59 L 573.81 524.79 L 573.97 524.78 L 574.14 524.49 L 574.31 524.9 L 574.47 524.43 L 574.64 524.73 L 574.81 524.5 L 575.14 524.58 L 575.31 524.92 L 575.48 524.6 L 575.81 524.78 L 576.14 524.59 L 576.31 524.74 L 576.48 524.73 L 576.81 524.86 L 577.14 524.42 L 577.31 524.9 L 577.48 524.6 L 578.31 524.8 L 578.48 524.5 L 578.81 524.51 L 578.98 524.8 L 579.48 524.58 L 579.65 524.83 L 579.82 524.55 L 579.98 524.53 L 580.48 524.82 L 580.82 524.56 L 580.98 524.85 L 581.32 524.46 L 581.49 524.56 L 581.82 524.44 L 581.99 524.81 L 582.15 524.85 L 582.32 524.47 L 582.65 524.9 L 582.82 524.62 L 583.15 524.86 L 583.32 524.46 L 583.49 524.7 L 583.66 524.42 L 583.99 524.93 L 584.16 524.47 L 584.32 524.8 L 584.49 524.46 L 584.66 524.7 L 584.82 524.58 L 584.99 524.9 L 585.16 524.82 L 585.49 524.44 L 585.99 524.54 L 586.16 524.43 L 586.33 524.83 L 586.49 524.9 L 586.66 524.83 L 586.83 524.65 L 587.33 524.9 L 587.66 524.78 L 587.83 524.79 L 588.33 524.5 L 588.5 524.76 L 588.66 524.45 L 588.83 524.76 L 589.16 524.74 L 589.33 524.55 L 589.5 524.56 L 590 524.92 L 590.17 524.83 L 590.33 524.93 L 590.5 524.79 L 590.67 524.86 L 591 524.56 L 591.33 524.7 L 591.5 524.78 L 591.67 524.44 L 591.84 524.43 L 592 524.62 L 592.17 524.51 L 592.34 524.76 L 592.5 524.65 L 592.67 524.77 L 592.84 524.45 L 593 524.64 L 593.17 524.48 L 593.67 524.8 L 594.01 524.47 L 594.34 524.78 L 594.51 524.61 L 594.67 524.63 L 594.84 524.44 L 595.17 524.97 L 595.34 524.43 L 595.51 524.89 L 595.68 524.77 L 595.84 524.44 L 596.01 524.6 L 596.18 524.6 L 596.51 524.75 L 596.68 524.81 L 596.84 524.56 L 597.18 524.9 L 597.51 524.89 L 597.68 524.48 L 597.85 524.83 L 598.01 524.85 L 598.18 524.62 L 598.35 524.81 L 598.51 524.53 L 599.18 524.77 L 599.51 524.59 L 599.68 524.94 L 599.85 524.85 L 600.02 524.59 L 600.35 524.66 L 600.68 524.85 L 600.85 524.68 L 601.02 524.83 L 601.18 524.57 L 601.85 524.49 L 602.19 524.82 L 602.52 524.92 L 602.85 524.56 L 603.02 524.64 L 603.19 524.9 L 603.35 524.59 L 603.52 524.57 L 603.69 524.77 L 603.86 524.68 L 604.02 524.93 L 604.19 524.65 L 604.36 524.97 L 604.69 524.53 L 605.02 524.77 L 605.19 524.48 L 605.36 524.63 L 605.52 524.47 L 605.69 524.71 L 606.03 524.63 L 606.19 524.95 L 606.69 524.86 L 606.86 524.44 L 607.03 524.61 L 607.36 524.47 L 607.53 524.88 L 607.69 524.57 L 608.03 524.77 L 608.36 524.54 L 608.53 524.65 L 608.86 524.51 L 609.03 524.78 L 609.2 524.52 L 609.36 524.72 L 609.53 524.48 L 609.87 524.64 L 610.03 524.44 L 610.37 524.86 L 610.53 524.69 L 610.7 524.77 L 610.87 524.45 L 611.03 524.88 L 611.2 524.64 L 611.37 524.67 L 611.53 524.91 L 611.7 524.6 L 612.04 524.74 L 612.2 524.46 L 612.37 524.92 L 612.54 524.63 L 612.7 524.82 L 612.87 524.71 L 613.04 524.78 L 613.37 524.49 L 613.54 524.94 L 613.87 524.58 L 614.04 524.82 L 614.21 524.79 L 614.37 524.46 L 614.54 524.92 L 614.87 524.6 L 615.04 524.62 L 615.21 524.94 L 615.37 524.45 L 615.54 524.97 L 615.71 524.96 L 615.88 524.67 L 616.04 524.94 L 616.54 524.67 L 616.71 524.66 L 616.88 524.48 L 617.04 524.92 L 617.21 524.44 L 617.38 524.63 L 617.54 524.6 L 617.71 524.97 L 617.88 524.5 L 618.05 524.76 L 618.21 524.76 L 618.27 524.63 L 618.38 524.76 L 618.55 524.46 L 618.71 524.48 L 619.05 524.85 L 619.21 524.75 L 619.38 524.42 L 619.55 524.79 L 619.71 524.68 L 619.88 524.84 L 620.22 524.42 L 620.55 524.91 L 620.88 524.48 L 621.22 524.83 L 621.55 524.43 L 621.88 524.83 L 622.05 524.45 L 622.22 524.67 L 622.39 524.5 L 622.72 524.67 L 622.89 524.55 L 623.03 524.6 L 623.05 524.45 L 623.22 524.64 L 623.39 524.14 L 623.89 524.39 L 624.06 523.94 L 624.22 523.86 L 624.39 524.25 L 625.22 523.43 L 625.39 523.62 L 625.56 523.63 L 625.89 523.33 L 626.23 523.58 L 626.56 523.65 L 626.73 523.89 L 626.89 523.53 L 627.06 523.85 L 627.23 523.86 L 627.39 524.09 L 627.56 524.01 L 627.73 524.42 L 627.89 524.17 L 628.06 524.19 L 628.23 524.72 L 628.4 524.6 L 628.56 524.85 L 628.7 524.46 L 628.73 524.6 L 628.9 524.87 L 629.06 524.4 L 629.23 524.39 L 629.4 524.74 L 629.56 524.49 L 629.73 524.86 L 629.9 524.54 L 630.23 524.89 L 630.57 524.62 L 630.73 524.89 L 630.9 524.43 L 631.07 524.69 L 631.23 524.64 L 631.4 524.39 L 632.57 524.45 L 632.74 524.86 L 632.9 524.4 L 633.07 524.8 L 633.24 524.81 L 633.4 524.6 L 633.74 524.64 L 633.9 524.46 L 634.07 524.94 L 634.57 524.64 L 634.74 524.75 L 634.91 524.59 L 635.24 524.94 L 635.41 524.52 L 635.74 524.74 L 635.91 524.8 L 636.08 524.48 L 636.24 524.61 L 636.41 524.9 L 636.58 524.74 L 636.74 524.42 L 636.91 524.82 L 637.41 524.92 L 637.58 524.94 L 637.91 524.47 L 638.25 524.47 L 638.41 524.76 L 638.58 524.59 L 638.75 524.93 L 638.91 524.55 L 639.08 524.82 L 639.25 524.61 L 639.41 524.81 L 639.75 524.72 L 639.91 524.64 L 640.25 524.87 L 640.58 524.55 L 640.75 524.76 L 640.92 524.45 L 641.08 524.73 L 641.42 524.76 L 641.58 524.45 L 641.75 524.81 L 641.92 524.64 L 642.08 524.69 L 642.25 524.44 L 642.42 524.95 L 642.59 524.44 L 642.75 524.78 L 642.92 524.54 L 643.09 524.87 L 643.25 524.59 L 643.59 524.87 L 643.92 524.88 L 644.09 524.48 L 644.42 524.81 L 644.59 524.53 L 644.76 524.68 L 644.92 524.61 L 645.26 524.87 L 645.42 524.9 L 645.92 524.63 L 646.26 524.77 L 646.43 524.87 L 646.7 524.68 L 646.76 524.9 L 647.09 524.48 L 647.43 524.81 L 647.59 524.45 L 647.76 524.91 L 647.93 524.87 L 648.09 524.56 L 648.26 524.54 L 648.6 524.93 L 648.76 524.63 L 648.93 524.79 L 649.1 524.51 L 649.26 524.94 L 649.43 524.69 L 649.6 524.89 L 649.76 524.46 L 649.93 524.45 L 650.1 524.66 L 650.6 524.48 L 650.77 524.91 L 651.1 524.54 L 651.27 524.83 L 651.43 524.74 L 651.6 524.44 L 651.77 524.72 L 651.93 524.66 L 652.27 524.89 L 652.44 524.48 L 652.6 524.55 L 652.77 524.9 L 652.94 524.47 L 653.1 524.48 L 653.27 524.79 L 653.44 524.49 L 653.6 524.9 L 653.77 524.84 L 653.94 524.49 L 654.27 524.75 L 654.77 524.87 L 655.11 524.7 L 655.27 524.92 L 655.44 524.57 L 655.61 524.92 L 655.77 524.89 L 655.94 524.48 L 656.27 524.89 L 656.44 524.75 L 656.78 524.9 L 656.94 524.42 L 657.11 524.91 L 657.28 524.55 L 657.61 524.83 L 657.78 524.48 L 658.11 524.93 L 658.45 524.62 L 658.78 524.79 L 659.28 524.69 L 659.45 524.4 L 659.61 524.44 L 659.78 524.65 L 659.95 524.46 L 660.11 524.86 L 660.45 524.5 L 660.62 524.8 L 660.78 524.63 L 660.95 524.65 L 661.12 524.88 L 661.28 524.4 L 661.45 524.73 L 661.62 524.62 L 661.78 524.92 L 661.95 524.64 L 662.12 524.69 L 662.28 524.45 L 662.45 524.89 L 662.62 524.44 L 662.79 524.82 L 662.95 524.46 L 663.29 524.59 L 663.45 524.72 L 663.79 524.54 L 664.12 524.87 L 664.29 524.52 L 664.46 524.51 L 664.62 524.75 L 664.79 524.78 L 664.96 524.41 L 665.29 524.85 L 665.46 524.42 L 665.62 524.76 L 665.65 524.67 L 665.96 524.5 L 666.12 524.48 L 666.63 523.82 L 666.79 523.12 L 666.82 523.42 L 666.96 523.19 L 667.29 522.12 L 667.46 521.15 L 667.63 520.9 L 667.96 519.99 L 668.13 520.12 L 668.46 519.35 L 668.49 519.66 L 668.63 519.22 L 668.8 519.38 L 668.96 519.36 L 669.13 519.07 L 669.3 519.48 L 669.46 519.02 L 669.63 519.32 L 669.69 519.12 L 669.8 519.23 L 670.13 517.74 L 670.46 514.73 L 671.44 487.59 L 671.97 465.53 L 672.47 449.59 L 672.97 439.23 L 673.3 434 L 673.64 432.24 L 673.8 432.63 L 673.97 433.42 L 674.64 442.42 L 676.31 475.46 L 677.14 486.2 L 677.64 491.23 L 678.14 496.06 L 678.31 496.87 L 678.81 500.64 L 679.48 505.21 L 679.81 506.91 L 680.31 509.79 L 680.48 510.3 L 680.82 511.76 L 681.32 513.91 L 681.98 515.69 L 682.15 516.36 L 682.32 516.52 L 682.82 517.83 L 683.15 518.76 L 683.18 518.7 L 683.32 518.86 L 683.65 519.49 L 684.32 520.45 L 684.66 521.03 L 685.66 521.82 L 685.82 522.4 L 685.99 522.29 L 686.49 523.08 L 686.66 522.76 L 686.83 523.37 L 686.99 523.04 L 687.16 523.41 L 687.33 523.26 L 687.49 523.8 L 687.83 523.69 L 687.99 523.76 L 688.16 524.05 L 688.33 523.94 L 688.83 524.44 L 689 524.43 L 689.13 524.13 L 689.13 524.13" clip-path="url(#pfc94fbe1b5)" filter="url(#bl3)" style="fill: none; stroke: #d62728; stroke-width: 1.5; stroke-linecap: square"/>
   </g>
   <g id="patch_18">
    <path d="M 408.7 684.94 L 408.7 388.96" style="fill: none; stroke: #000000; stroke-width: 0.8; stroke-linejoin: miter; stroke-linecap: square"/>
   </g>
   <g id="patch_19">
    <path d="M 702.52 684.94 L 702.52 388.96" style="fill: none; stroke: #000000; stroke-width: 0.8; stroke-linejoin: miter; stroke-linecap: square"/>
   </g>
   <g id="patch_20">
    <path d="M 408.7 684.94 L 702.52 684.94" style="fill: none; stroke: #000000; stroke-width: 0.8; stroke-linejoin: miter; stroke-linecap: square"/>
   </g>
   <g id="patch_21">
    <path d="M 408.7 388.96 L 702.52 388.96" style="fill: none; stroke: #000000; stroke-width: 0.8; stroke-linejoin: miter; stroke-linecap: square"/>
   </g>
   <g id="text_67">
    <text class="letter" x="369.624" y="384.183" font-size="20" text-anchor="start" font-weight="700">D</text>
   </g>
   <g id="text_68">
    <text class="title" x="555.343" y="383.574" font-size="12" text-anchor="middle" letter-spacing="0.076">Random Samples - No Signal</text>
   </g>
  </g>
 </g>
 <defs>
  <clipPath id="pe89d451f33">
   <rect x="49.248731" y="29.573604" width="293.817259" height="295.979695"/>
  </clipPath>
  <clipPath id="p00116fa853">
   <rect x="408.700508" y="29.573604" width="293.817259" height="295.979695"/>
  </clipPath>
  <clipPath id="pd4dceb49d7">
   <rect x="49.248731" y="388.964467" width="293.817259" height="295.979695"/>
  </clipPath>
  <clipPath id="pfc94fbe1b5">
   <rect x="408.700508" y="388.964467" width="293.817259" height="295.979695"/>
  </clipPath>
 </defs>
</svg>

</body></html>
